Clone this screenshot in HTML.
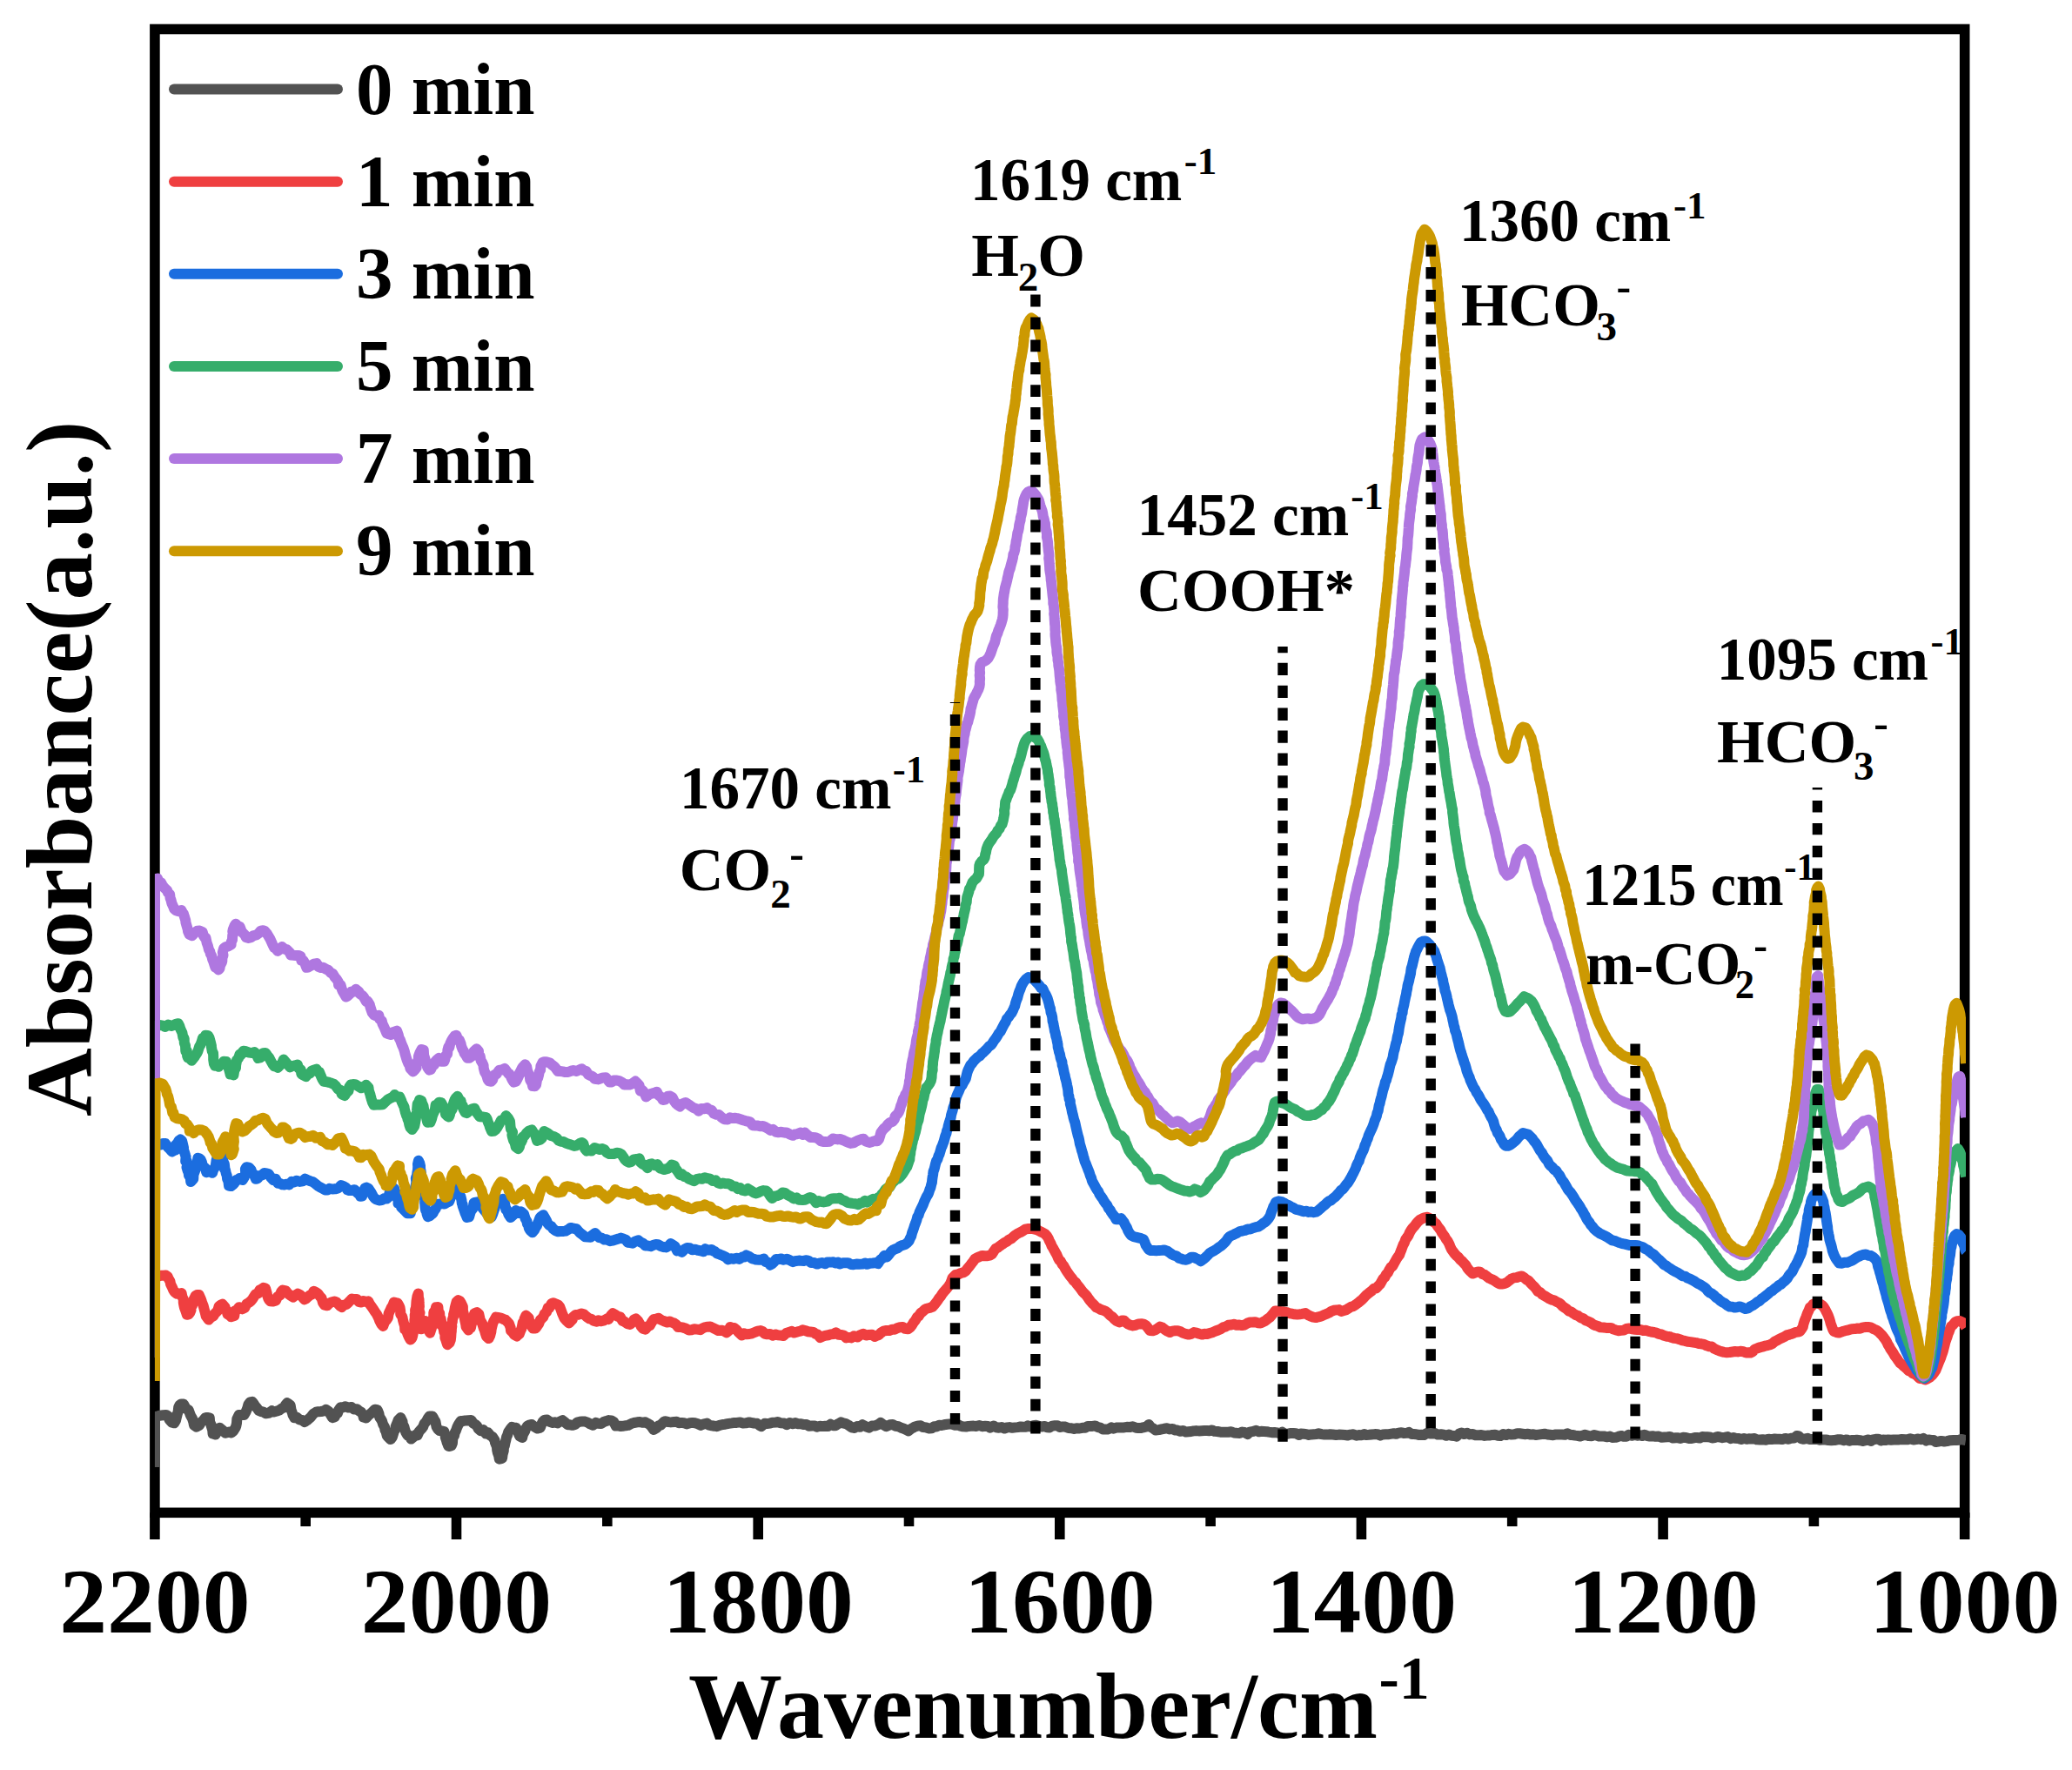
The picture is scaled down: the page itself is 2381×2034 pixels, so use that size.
<!DOCTYPE html>
<html lang="en"><head><meta charset="utf-8"><title>In situ FTIR spectra</title>
<style>html,body{margin:0;padding:0;background:#fff}svg{display:block}text{font-family:"Liberation Serif","Times New Roman",serif;font-weight:bold;fill:#000}.tk{font-size:106px;text-anchor:middle}.lg{font-size:85px}.an{font-size:68px}.s{font-size:43px}</style></head><body>
<svg width="2381" height="2034" viewBox="0 0 2381 2034">
<rect width="2381" height="2034" fill="#fff"/>
<defs><clipPath id="pc"><rect x="177.9" y="33.5" width="2081.1" height="1704.8"/></clipPath></defs>
<rect x="177.9" y="33.5" width="2079.8" height="1704.8" fill="none" stroke="#000" stroke-width="11.6"/>
<path d="M177.9,1738.3 V1769 M351.2,1738.3 V1754 M524.5,1738.3 V1769 M697.8,1738.3 V1754 M871.2,1738.3 V1769 M1044.5,1738.3 V1754 M1217.8,1738.3 V1769 M1391.1,1738.3 V1754 M1564.4,1738.3 V1769 M1737.7,1738.3 V1754 M1911.1,1738.3 V1769 M2084.4,1738.3 V1754 M2257.7,1738.3 V1769" stroke="#000" stroke-width="11.6" fill="none"/>
<g clip-path="url(#pc)" fill="none" stroke-width="12" stroke-linejoin="round" stroke-linecap="butt">
<path d="M177.9,1686 L177.9,1628.4l2.7,-0.8 2.7,-0.9 4.2,-0.5 3.3,-0.3 2.3,1.5 1.4,3.9 2,2.3 1.1,1.1 2.7,0.6 1.7,-3 0.9,-3.9 0.5,-1.8 0.3,-1.5 1,-3 0.5,-5 1.1,-2.2 2,-1.5 2.7,0.2 2.4,4.5 1.5,1.4 1.8,0.8 1.8,5 0.7,1.7 1.8,3.1 1.3,4 0.6,3.5 2.8,2.1 3.3,-1.7 2.4,-4 2,-1.5 2.4,-3.1 2.2,-0.5 2.8,0.5 0.3,4.8 1.9,3.9 -0.4,0.1 1.6,5.1 0.4,4.3 3,0.9 1.6,-2.6 1.7,-2.3 1.6,-2.9 2.1,1.8 3,2.6 1.4,1.6 4.3,-1.1 2.6,0.8 2.2,-1.8 2.5,-4 0.8,-2.2 0.6,-3 0.3,-4.6 1.2,-2.7 1,-2 3.8,-0.2 2.2,-0 2,-3.4 1.7,-4.1 0.7,-2.7 0.6,-2 1.9,-2.3 2.6,-0.6 2,2.9 1.3,2 1.8,2 2.3,3.2 3.1,1.3 2.1,0.5 3.1,1.6 3.1,-0.4 3.6,-2.7 2.1,1.4 3.7,-1.1 2.7,-0.9 2.9,-2.1 3.5,-1.4 0.6,-2.5 2.1,-2.4 1.4,0.9 2.3,1.9 0.8,5 1.5,4 0.5,1.9 1.8,3.4 2.8,-0.5 3,2.6 3.1,0.6 2.9,2.1 2.5,-1.7 2.5,-2.2 1.9,-1.6 2.9,-3.8 3.3,-2.1 2.6,-0.5 3.2,-0.2 3.3,-0.6 2.2,-1.6 3.2,2.2 1.6,2.6 2.7,4.5 2.5,-0.6 1.6,-3.2 1.8,-1.2 1,-3.2 2.4,-3.6 1.9,0.3 3.8,-1.4 3.5,1.4 3.4,-0.6 3.1,2.6 3.3,-0.4 2.1,2.1 2.7,1.5 2.1,3.1 0.5,2.7 3,0.9 2.9,-3.3 2.4,-1.8 2.5,-2.5 2.2,-2.2 3,0.5 1,2.4 0.7,1.8 0.8,4.3 1.4,1.8 1.4,2.5 1,3.4 2,3.5 0.4,3.2 1.1,1.8 1.3,5.1 1,1.2 3,2.9 1.9,-2.3 1.4,-4.6 0.4,-2 1.7,-2.6 0.4,-2.9 0.7,-2.1 1.4,-3.1 0.9,-2.6 2.7,-2.8 2.2,4.3 0.3,3.1 1.6,3 0.9,3.6 1.1,3.1 1.9,3.1 1.4,-0.1 2.7,4.4 2.1,-1.7 3.5,-3.3 1.7,0.8 1.9,-4.4 3.1,-3.3 1.4,-1.9 1.5,-4 2.4,-2.5 1.9,-3.7 1.6,-2.1 3.4,0.1 0.9,1.4 2.4,4.9 0.2,-0.5 1.1,6.1 1.6,2.7 1.9,1.9 2.4,0.3 3,0.7 1.4,4.9 0,1.8 1.2,3.4 0.4,1.7 1.8,4.9 0.5,0.2 3,-0.6 1.2,-2.9 0.3,-3.9 0.4,-3.3 1.4,-1.5 0.6,-3.1 1.5,-3.1 1.1,-3.2 1.7,-3.6 2.5,-3.7 2.4,-0.1 3.1,-0.6 3.3,-0.2 3.2,-0.2 2.4,3.5 2.2,1.3 2.2,2 1.4,3.1 2.9,2.3 2.8,-1.3 2.8,4.5 2.8,-1 2.4,3.1 2.6,1.6 2.6,4 0.4,2.4 1.5,3.7 0.5,0.9 0.3,4.1 0.6,2.9 1.3,3.5 0.7,4.1 2.3,-0.5 1,-0.6 0.5,-4.3 1.2,-4.2 0.1,-3.7 0.9,-1.8 0.7,-3.5 0.8,-3.1 0.7,-3.4 1.1,-2.4 1.1,-3.6 1.9,-2.9 2.2,-2.9 2.1,0.8 2.8,0.2 1.1,2 1.5,4.2 0.5,1.5 1,2 2.9,1.6 0.7,-3.3 2.5,-4.7 0.4,-1.8 2.2,-3.6 1.9,-1.1 3.2,-0.6 3.1,2.6 1,0.6 2.6,1.4 3,-0.9 1.7,-4.6 1.1,-2.2 2.3,-2.2 2.8,-0.1 3.5,2.5 3,0.9 2.7,-0.7 2.8,1.1 2.4,-1.8 3.3,-1.5 2.9,2.3 3.2,2.8 2.5,0.1 2.7,0.5 3.3,-0.8 2.2,-2.4 3.2,-0.8 2.8,-0.4 3.1,0.2 2.9,1 3.2,1.9 2.9,1.2 3.5,-2.8 2.4,0.9 3.5,0.3 3.1,-2.1 3.1,-1.1 2.8,-0.8 2.8,0.3 2.9,1.8 2.3,4.4 2.4,-0.2 3.3,0.6 2.3,-0.2 3.5,-0.6 2.6,-0.3 4.2,-2.2 2.5,-0.7 3.7,-0.7 3.1,-0.2 2.8,0.7 3.6,-0.5 2.2,1.3 2.9,1.6 2.6,3.1 1.6,2.6 3.4,-1.9 2.3,-2.6 2.4,-0.6 3.8,-3.9 1.8,-0.7 3.5,0.9 2.7,0.3 3.6,-0.4 3.1,-0.2 2.6,1.4 3.1,-0.3 2.6,0.3 3.3,1.2 3.6,-1.2 2.8,-0.3 3,0.4 3.5,1 3.2,1.6 2.8,-1.3 4.4,-1 2.2,2.1 3.3,0.6 2.8,0.4 2.8,0.5 3.3,-1.3 3.6,-0.9 2.8,-0.3 4,-0.8 3.7,-0.5 3,-0.5 2.6,-0 4,-0.5 3.3,1 3.1,-0.1 3.9,-0.9 2.1,0.4 3.6,0.7 3.2,0.3 2.7,2 2.3,1.4 4,-3.4 2.5,0.2 3.6,-0.4 2.6,-0.8 4.2,-0.3 2,-0.6 3.1,1.4 4.3,0.2 3,1.6 3.3,-2.1 3.8,1.2 2.8,-1.2 3.5,1.3 2.2,-0.1 4.3,0.9 2.8,-0.1 2.7,1.7 3.7,-0.3 3.1,0 2.4,1.3 3.6,-0.9 2.8,0.3 3,-0.3 3.5,0.1 2.9,-2.2 3,1.6 2.5,0 3.3,-2.2 3,-1.7 2.5,1 3.3,0.8 2.6,1.3 4,2.8 3,0.7 3.4,-1.9 3.2,0.7 2.8,-2.6 4,2.1 3.5,1.3 3.4,-2.1 3.8,-0.1 3.6,-1.5 2.5,-2 3.3,2.4 3.4,1.9 3.9,-1.9 3.4,-0.2 3.2,1.7 3.4,0.4 3,1.6 3.1,1 2.8,1.3 2.3,1.3 3.1,-2.4 2.6,-1.3 2.1,-1.3 3.4,-1 3,-0.1 2.8,1.7 3.7,0.4 3.3,1 3,-0.2 2.8,-1.9 2.5,0.2 3.2,-1.8 2.7,0.3 2.9,-0.7 3.5,-0.5 3.1,-0.4 3,0.4 3.1,1 3.7,-0.5 2.4,1.3 3,0.7 3.5,0.2 3,-0.6 2.6,-0.2 3,-0.1 2.9,0.4 3.9,-1 3.1,1.2 3.4,-0.4 3.2,0.2 2.5,1.6 4,-2.1 2.8,1.7 3.5,0.5 3,-0.6 3.2,1.4 2.8,-1 3,-0.4 3.3,0.7 3.5,-0.4 2.8,-0.3 3.2,-0.6 3,0.3 3.1,0 2.3,-1.5 2.3,1.1 3.7,-1.1 3.7,-0.5 3.4,1.2 2.7,0.6 3.6,-0.7 2.5,1.4 3,0.1 3,-1.8 3.1,-0.4 3,0.1 2.6,1.7 3.3,-0.6 2.9,0.2 3.7,1.4 3.5,0.2 3.1,0.8 2.8,-0.8 3.4,0.3 3.2,-0.7 3.2,-0.1 3.1,-1.8 2.8,0.1 2.5,-0.1 3.2,-0.4 3.3,1.6 2.5,0.5 3,1.9 3.4,0 2.9,-0.1 3.5,-2 2.5,1.3 3.1,-1.1 3.7,-0.1 2.2,0 3,-0.1 3.4,-0.6 3.8,0.1 2.8,-0.7 3.9,1.6 2.6,0.3 3,-0 2.6,-0.8 3.9,-0.9 2.6,-2.4 2.2,3 2.9,1.5 2.6,2 3.8,-0.4 3.1,-0.7 3,-0.6 3.4,-0.5 2.8,1.1 3.3,-0.5 2.9,1.5 2.8,0.2 3.4,1.2 2.9,-0.9 3.5,1.7 2.7,-0.3 3.2,-0.3 2.8,-0.6 3.1,-0.3 3,0.3 3.1,-0.2 3.1,-0.2 3.4,0 2.4,0.2 3.2,-0.8 2.9,1.4 3.3,0.2 3.5,0.7 2.9,0.1 2.9,-0.1 3.2,0.1 3.4,-0.5 3.2,1.2 3.1,0.3 3.2,0.1 3,-1.3 2.6,0.4 3.7,2 2.4,-2.4 4,-0.7 3.1,-1.1 3.4,1.5 2.6,-0.5 3.2,0.2 3.5,0.2 2.1,0.4 3.6,0.6 2.8,-0.2 3.5,0.4 3.5,1.2 2.1,-1.9 3.2,2.1 3,-0.1 2.8,-0.7 3.8,0.1 3,0.2 3.6,1.7 2,-1.4 3.1,0.1 3.3,0.4 2.8,0.9 2.7,-0.6 2.9,-0.2 3,-0.2 2.6,-0.8 3.2,0.9 3.5,0.5 3.3,0 3,-0.4 3.1,0.3 4,0.5 3.2,-0.4 3.6,0.1 3.4,0.3 3.2,0.5 3.1,-0.9 3.2,-0.3 3.7,1.4 2.8,-0.6 3.3,0.1 2.9,-1.2 2.3,1 3.1,-0.2 2.8,-0.3 3.9,-0.4 3.5,0.1 2.5,1.4 2.9,-1.1 3.3,-0.2 3.9,-0.1 3.1,-0.6 2.6,-0.4 2.6,0.6 2.8,-1.1 3.4,-0.5 2.6,0.7 3.7,-0.1 2.3,-0.9 3.2,2.1 2.3,0 2.9,0.2 2.8,0.7 2.9,-0.2 3,0.4 3.3,-2.1 3.4,0.4 3,0.1 3.2,-0.5 3.1,1.6 3.6,-0.4 3.1,0.5 3.1,1.1 3,-1.3 2.8,1.2 3,0.2 3.1,0.7 2.9,-3 2.6,-1.1 3.1,1.5 3.6,-1.2 2.7,1.6 3.2,-0.4 3.5,1.2 3.7,0 3,-0.2 3.8,0.9 2.8,-0.3 3.4,-0.1 2.8,-0.6 3,-0.1 3.3,1 2.7,0.3 3.4,-2.1 3.4,1.1 2.7,-1.3 2.9,0.7 3.8,-0.3 3.3,-1 2.6,0 3.3,0.5 3.7,0.5 2.7,-0.5 2.8,0.9 3.3,-0.4 2.9,0.8 3.1,-0.4 3.7,-0.5 3.3,-0.4 3.4,0.8 2.8,0.3 3.6,0.4 3.4,-0.8 3.5,0 3.3,-0 3.4,0.3 3,-1.4 3.3,1.6 2.3,0.1 3.3,0.6 2.3,0.3 3.4,0.6 2.8,-0.9 2.6,-0.8 4.1,1.2 3.7,0.2 2.8,-1.2 3.2,0.8 2.9,0.8 3.1,-0.2 2.7,0.2 2.6,0.7 3.6,-0.7 2.7,1.3 4.1,-0.1 2.9,-1 3,-0.9 2.9,0.8 3.5,-0 2.3,-2 3.8,1.1 2.7,-1.3 3.3,1.2 3.2,-0.5 2.6,0.8 2.7,-1.3 3.2,1.4 3,0.5 3.1,-0.4 3.3,0.6 3.8,-0.2 3.4,1.2 3.1,-0.3 3.6,-0.2 2.8,-0.3 3.4,1.6 3.2,-0.4 2.8,0.1 2.7,0.6 2.9,-1.1 3.2,0.2 3.8,1.1 2.8,-0.1 3.7,-0.9 2.5,-0.1 3.2,0.5 2.9,-1.4 3,0.1 3,0.1 2.5,0.1 2.9,1.1 3.2,-0.4 2.8,-1.2 2.9,0.6 2.9,0.7 3.1,-0.5 3,-0.6 3.4,2 2.9,-1.1 2.4,0.8 3.9,0.3 3,0.8 3.1,-0.9 3,0.8 2.5,-0.5 3.1,0.2 3.5,-0.5 2.6,1.3 3.8,0.2 3,-0.3 4.1,0.5 2.8,-1 3.3,0.4 3.5,-0.6 2.6,0.3 3.2,-0.1 2.9,0.4 3.5,-1.2 3.9,0.9 2.7,-1.1 3.7,-0.3 2.9,-2.4 2.5,0.5 2.5,2.7 2.3,0.6 5.2,-1 2.2,1.2 3.2,-0 2.9,-0.3 2.8,0.2 2.9,0.8 3.1,-0.1 3.8,-0.1 3,0.5 3.4,0.2 3.3,-0.1 3.6,-0.8 4,0 3.4,0.9 3.2,-0.8 3.1,1.3 2.7,-0.8 3.4,0.2 2.4,-0.4 3.7,0.5 3.3,0.8 3.1,-0.8 3.4,-0.8 2.9,1.5 2.4,-1.6 3,-0.5 3.1,-0.1 2.9,1.8 2.4,-1 2.8,0.5 3.2,-0.6 3.2,0.4 3,-0.3 3.1,-0 3.2,-0.1 3.1,-0.4 4.1,0.3 2.6,0 3.3,-1.1 3.2,1.3 3.3,-0.5 2.5,-0.5 3.2,0.7 2.7,-1.3 3.1,2.7 2.7,-1.2 3.1,0.5 2.8,0 2.6,2.1 2.7,-0.4 3.3,-0.7 3.6,0.6 3.1,-0.4 4,-0.9 3.6,-0.3 3.3,0.2 2.9,-0.3 3.3,-0.9 3.3,1 1.2,0.2" stroke="#525252"/>
<path d="M177.9,1560 L177.6,1465.3l3.8,1.5 3.5,-1.1 2.7,-0 3,-0.2 2.2,1.6 0.5,1.7 2.2,3.8 0.6,3.2 1.6,3.1 1.5,3.6 1.2,2 2.9,2.3 3.2,-0.3 2.1,-0.5 0.9,4.4 1.3,2.7 0,3.7 0.7,3.8 0.6,2.7 0.2,-0 1.8,5.4 0.7,2.1 2,-0.4 1.6,-2.1 1.1,-2.7 -0.3,-3.8 1.9,-1.7 0.2,-2.4 0.8,-3.4 0.9,-1.9 1.7,-3.3 1.7,-1.1 2.3,0.1 1.1,2.4 1.1,2.5 1.3,3.8 1.4,3.6 0.1,0.4 1.3,4.9 0.7,2.5 1,4.3 3.1,4.1 2.9,-3 2.8,-1.5 1.3,-2.5 1.5,-1.4 1.9,-2.1 1.4,-4.8 1.8,-1.6 2.2,-1 3,3.5 0.9,3.1 1.1,0.8 0.8,4.1 2.7,1.4 1.3,1.6 3.9,-1.2 0.8,-5.8 1.9,-0.5 2.7,-3.5 1.4,0.2 2.5,1.9 2.5,-1.3 2.2,-4.4 2.9,-1.9 2.5,-2 1.8,-2.4 3.2,-5.1 2.8,-0.5 1.9,-4.4 1.6,-0.4 2.9,-2.2 2.2,0.9 1.6,5.5 0.2,1.7 1.5,4.6 1,1.6 1.2,1.2 3.1,0.4 3.3,-1.1 2.1,-4.7 2.5,-1.2 1.6,-4.3 1.6,-1.7 3.7,0.8 2.2,2.9 3.4,2.5 2.7,1.9 2.6,-2.2 2.8,-1.9 2.5,1.2 2.5,2.4 2.5,3.1 2.1,-1 2.1,-2.1 1.9,-1.5 2.9,-1.4 1.8,-3.5 2.5,1.1 2.2,1.5 2.5,3.4 1.8,1.7 1.5,5.5 1.9,2.6 3.2,0.7 2,-2.6 2.6,-1.1 3.8,-1.1 2.3,1 3.9,4.2 2.1,1.4 2.1,-2.4 2.8,-0.5 2.1,-1.8 3.4,-3.7 1.1,-1.2 2.5,0.6 3.5,-0.1 2.3,3.2 2.5,0.4 2.3,-1.6 3.6,1.1 2.2,-0.8 1.7,3.4 1.8,2.4 2.8,4.1 1.8,2.8 1.5,2 1.4,2.8 1,2.1 0.8,2.3 2.2,4.4 2,2.4 2.4,-6.2 1.3,-0.6 2,-3 0.7,-4.6 0.5,-1.2 1.7,-3.6 0.8,-1.9 1.7,-2.5 1.4,-3.9 2.4,0.6 1.7,0.3 1.7,2.9 1,2.2 0.7,4.2 0,3.5 1.8,2.5 0.6,1.6 0.3,2.1 1,3.9 1.1,3.1 0.2,4.2 2.4,0.8 0.3,3.2 0.7,2 1.2,2.7 1.8,3.2 1.9,-2 0.7,-2.5 0.7,-3.7 0.3,-1.4 0.6,-4.9 -0.1,-2.5 0.7,-1 -0,-4.8 0.4,-2 -0.1,-3.6 0.5,-1.6 -0.1,-4.2 0.9,-2.8 0.2,-2.4 0.3,-4.6 0.4,-2.4 0.6,-3.5 1.2,-3.1 0.2,4.5 0.6,2.3 0.1,3.5 0.3,4.7 -0.3,1.6 -0,3.4 0.9,2 -0.7,3.2 0.9,3.5 0.1,0.1 -0.3,6.6 0.1,2.8 1.5,2.5 1.3,-0.4 0.3,-2.8 1.5,-3.5 1.5,-2.4 1.5,2.4 0.7,4 0.9,1.6 0.5,2.2 1.8,3.4 0.7,-2.3 1,-2.8 1.1,-4.4 0.2,-1.7 -0.1,-3 0.9,-2.6 0.4,-3.1 0,-3.9 1.8,-1.5 0.9,-4.2 2.4,-0.1 0.4,5.5 1.4,1.5 0.1,5.9 1.3,0.4 0.6,4.4 -0.3,3 1.9,-0.1 0.6,3.1 0.8,4.7 1.1,1.7 0.1,5.2 0.7,1.6 1,3.2 1,3 2.4,-2 1.3,-3.3 0.4,-3.1 0.3,-4.7 0.3,-2.1 0.1,-3.1 0.4,-2.7 -0.4,-2.6 0.9,-2.7 0.1,-2.3 1.2,-3.9 -0,-2.1 1,-3.5 0.7,-4.3 0.5,-1.9 1.3,-5 1.9,-1.7 2.1,1 1.5,2.6 1.2,2.5 0.6,1.5 -0,4.2 1.1,4.5 -0.1,1.6 0.7,1.7 0.7,3.9 0.9,4.1 0.4,3 1.4,1.9 1.2,1.8 1.3,-1.9 1.4,-0.5 0.8,-4 1,-4.2 1,-4 0.9,-1.7 0.5,-2.9 3,-1.2 2.2,2.1 0.9,3.9 0.7,3.8 0.7,0.3 1.6,2.8 0.6,2.1 0.9,3.1 1,2.1 1.3,4.6 1,3 1.4,1.3 1.2,0.9 1.5,-3 1.3,-4.9 0.1,-1.4 0.3,-1.9 0.9,-3.8 0.5,-2.1 1.2,-2.9 2.5,-4.5 2.2,0.4 3.7,0.6 3.4,1.6 1.8,0.6 2.1,2.2 1.9,2.1 1.7,4.7 0.3,3.3 2.6,2.4 1.3,2.3 3.1,1.7 0.6,-0.8 2.1,-1.6 1.5,-4 1,-2 0.5,-1.8 1,-5.3 1.6,-2.1 0.4,-2.7 1.7,-3.6 3.3,3.1 0.2,3 1.8,2.3 0.1,2.3 2.5,4.2 2.9,0.1 1.5,-1.8 2.4,-3.4 1.8,-4.7 1.7,-1.5 1.8,-1.9 1.2,-3.4 2.5,-2.3 1.5,-4.6 1.6,0 2.6,-5.1 2.2,-0.7 2.8,1.2 2.7,1.3 1.7,1.8 1.4,3.8 1.4,4 2.1,4.6 0.4,1.1 2.4,2.6 2.9,2.8 2.4,-2.4 1.6,-1.7 0.7,-2.8 2.9,-2.6 3.5,-0.2 3.4,-1.2 2.7,0.7 2.9,2.8 3.3,2.3 2,0.3 2.8,2.1 3.8,1.1 1.6,-1.6 3.3,1.1 3.4,-0.9 3.5,-2.1 1.7,0.7 3,-4.7 1.9,-2.1 2.7,1.5 3.3,2.2 2.6,0.5 2.6,4.7 2.3,0.7 3.2,2.3 3.1,0.8 3,-2.6 1.6,-3 2.1,-1 2.7,2.9 2.5,4.3 0.7,1.6 2.4,2.9 2.7,0.6 2.5,-3.3 2.6,-1.1 2.2,-3.9 2.3,-3.3 1.9,-0.1 3.6,-1.2 2.8,2.1 3,1.2 4.1,1.5 2.4,-1.1 2.9,1.2 2.6,0.9 2.5,1.7 2,2.9 2.9,-0.1 3.2,0.7 2.6,0.8 3.8,2.1 3,-0.4 3.2,-1 3.3,0.4 3.6,0.6 2.4,-1.6 3.5,-1.5 2.5,-0.4 3.1,-0.1 2.9,1.3 3.6,1.8 2.7,1.3 3.6,-0.3 2.8,0.6 3.2,2 2.9,-2.6 1.2,-3.8 2.2,1 2.5,0.2 2.7,2.3 2.3,2.7 3.7,3.4 2.2,-2.3 3.1,1.1 3.3,-0.3 3.1,-0.7 3.7,-1.5 2.6,-1.2 3.4,-0.5 2.5,1 2,2.5 3.1,0.7 3.3,-0.4 3,1.8 3,-1.3 3,0.8 3.4,0.4 3,0.4 3.2,-2.9 3.2,-1 3.2,-1.3 2.8,1.7 3.7,-1.1 3.5,-0.7 2.6,-1.4 2.7,0.7 3.6,1.2 2.4,0.3 3.7,0.5 2.3,1.9 2.3,0.5 3.1,3.7 3.3,-1.5 2.2,-0.7 3.8,-0.6 2.7,-0.9 3.4,-0.4 2.9,-1.7 3,2.5 2.4,0.1 3.6,0.7 2.6,2.8 3.9,-0.5 2.2,0.5 2.8,-2.2 4.2,1.3 2.8,-2.2 3.7,-1.6 3.3,1.8 2.3,-0.4 4.6,-0.3 2.9,2.1 2.5,-1.1 2.3,-0.8 2.5,-2.5 3,-1.8 3.5,-0.8 3.1,0.2 3.1,-1.4 2.9,0.1 2.9,-1.6 3.2,-1 3.2,-0.2 2.6,1.8 3.6,0.5 2.3,-1.8 2.2,-2.6 1.8,-3.2 2,-2.3 2.1,-3.8 1.7,-1.1 2.6,-3.8 2.3,-1.6 2.4,-2.4 2,-0.9 3.2,-0.8 3.3,-1.1 2,-2.2 2,-2.5 2,-2.6 1.4,-2.3 2.1,-2.4 1.7,-2.8 2,-2.6 1.8,-2 2.3,-2.7 1.7,-2.2 1.7,-2.6 1.4,-3.6 0.9,-2.6 1.4,-1.6 2.2,-2.2 2.9,-0.5 3.2,-1.5 3.5,-0.9 2.2,-1.5 2,-2.8 2.2,-2.5 1.9,-2.6 2.4,-3.1 1.9,-2.8 2.7,-1.5 2.9,-1.3 2.9,-1.1 2.9,0.4 3.2,-0.1 2.6,-0.5 2.5,-1.6 2.1,-3.2 2.1,-3 2.6,-1.3 2.1,-1.7 2.7,-1.8 2.7,-2 2.9,-1.5 2.6,-2.2 2.7,-1.2 2.3,-2.2 2.5,-2 2.6,-1.6 2.9,-1.3 2.9,-1.8 2.6,-1.6 2.8,-0.6 2.8,-0 3.2,-0 3.2,0.7 3,1.1 2.9,1.6 2.3,1.1 2.7,1.6 2,2.3 1.5,2.4 1.4,3.3 1.5,2.7 1.2,3.2 1.3,2 1.6,2.8 1.3,2.4 1.5,2.5 1.4,3.6 1.5,2.8 1.6,1.3 1.8,3.4 1.6,1.7 1.9,3.5 1.7,2.8 1.7,2.5 2.2,3.1 1.7,1.9 2.2,3.2 2.1,1.7 1.9,2.7 2.2,2.7 1.7,2.2 1.9,2.7 1.9,2.1 2.1,1.9 1.6,2.1 1.9,2.8 2.1,2.7 1.9,2.3 2.4,2.2 2.4,2.7 2.4,0.9 2.6,1.6 3,0.8 3,1.3 2.6,2.2 2.4,2.6 2.5,1.6 2.5,2.7 2.1,1.7 3.4,1.7 3,-2 2.4,-0.1 1.7,2 2.8,2.1 2.8,1.2 2.8,0.7 3.2,-0.6 3.1,-1.4 3.6,-0.2 2.5,0.4 2.9,1.8 2,2.6 2.2,3 3.3,0.3 2.9,-1 2.6,-1.6 2.9,-2.1 2.8,1.1 2.7,2.1 3.2,2 2.6,1.2 2.9,-1.4 3.2,-0.4 3,0.1 3.4,1 2.7,1.6 3.1,1 3.2,0.7 3.1,-0.7 3.1,-1.8 3.1,0.6 3,1 3.5,0.9 2.2,-0.9 3.3,0.3 3.1,-1 3.7,-1.1 3.1,-1.4 2.8,-1 3,-1.3 2.9,-1.9 3,-0.9 2.7,-1.6 3.3,-0.3 3.2,-0.8 3.1,1.1 3.2,-0.3 2.8,0.6 3.3,-0.6 3.2,-2 2.9,-0.9 2.5,-0.1 3.4,-0.3 2.9,1 3.3,0.2 2.8,-1.2 2.7,-1.4 2.8,-2.3 2.6,-1.7 2.3,-2.8 1.9,-2.3 1.7,-2.1 3.3,-0.1 3.3,0.4 3.1,0.3 3.2,0.8 3,1.1 3.1,0.6 3.2,0.6 3.2,0.3 2.9,-0.3 2.9,-0.4 3.6,-0.9 3,2.2 2.5,1.1 3.4,1.3 3.1,0.5 3.1,-0.8 2.8,-0.6 2.9,-1.4 3.2,-1.3 3.1,-1.4 2.7,-1.7 2.8,-1.1 2.9,-0.4 3,-0.3 2.5,1.8 3.2,-0.9 2.6,-0.8 2.5,-1.6 3,-1.8 2.7,-0.7 3.1,-2.1 2.5,-1.8 2.1,-1.8 2.8,-2.3 1.7,-1.9 2.5,-2.7 2,-1.6 2.3,-1.8 2.4,-1.9 2.4,-2.4 2.3,-0.2 2.6,-2.8 2.1,-2.1 1.8,-3.2 1.7,-3.1 1.9,-1.7 1.5,-3 2.2,-2.3 1.4,-3.1 1.7,-2.8 2.1,-1.5 1.5,-2.7 1.8,-3.2 1.8,-3.2 1.2,-1.7 1.6,-2.1 1.2,-3.3 1,-2.4 1.1,-3.1 1.2,-3.1 1.2,-1.9 1.5,-4.2 1.6,-2.1 1.5,-2.2 1.5,-3.5 1.5,-2.5 1.6,-2.2 2.6,-2.9 1.6,-2.2 2.4,-2.8 2.1,-1.9 2.5,-1.4 3.2,-1.2 2.9,-0.4 2.8,1.4 2.5,1.1 2.1,3.3 2.3,1.3 2,3.3 1.7,2.1 1.8,2.4 1.4,2.7 1.8,2.5 1.6,2.3 1.6,3 1.6,1.9 1.8,3.4 1.4,3.5 1.4,3 1.8,2.4 1.6,2.2 2.3,2.5 1.9,1.6 2.4,2.9 2.1,1.8 2.1,2.3 2,2 1.8,3.3 1.8,2.3 1.9,1.9 2.5,2.3 3.3,-1.2 2.9,-0.9 2.4,0.3 2.8,2.4 2.5,0.9 2.6,1.9 2.6,2 2.9,1.3 2.9,1.5 3.2,2.3 2.9,1.5 2.6,0 2.9,-0.4 2.9,-1.3 2.7,-2.3 2.1,-1.7 3.1,-1.4 3.2,-0.3 2.6,-1 3.3,-0.6 2.7,1.6 2.5,2.3 2.8,1.5 2.1,2.5 2.2,2.4 2.2,1.9 2.3,2.8 1.9,2.7 2.7,1 2.2,2.4 2.8,1.6 2.4,1.5 2.7,1.6 2.8,1.3 2.8,0.7 2.8,1.6 2.6,1.2 2.1,1.4 2.2,2.5 2.5,1.7 2.4,1.6 2.7,2.5 2.5,0.7 2.6,2 2.6,1.6 2.9,1.1 2.7,2 3,1 2.6,2.1 3.2,1.2 3.1,1.6 2.6,2.1 2.9,1.1 2.6,0.7 2.7,1.3 3.7,0.2 2.8,0.4 2.4,-0 3.1,-0 2.7,1.4 3.2,1.2 2.9,0.7 3.1,-0.3 3.1,-0.3 2.9,-1.6 3.4,-0.6 3,0.9 3.3,0.4 3.1,0.3 3.2,-0.1 3.3,1 2.8,-0.1 3.4,1.1 2.7,0.6 3.6,0.5 2.6,0.6 2.6,1.3 3.3,0.6 2.7,1.2 3.5,1 2.7,0.2 2.6,1.1 3.2,0.9 3.2,0.3 3,1 3.1,1.2 3,0.5 3.1,0.9 3.1,0.3 3.3,0.5 3.3,0.5 3.1,0.9 2.8,0.3 3.1,0.6 2.9,1.4 3,0.9 3.1,0.3 2.5,2.1 2.8,1.4 3.2,1.3 2.6,0.9 2.9,0.7 3,0.3 3.5,-0.2 3.3,-0.5 3,-0.5 3.1,0.4 2.8,-0.6 3.6,0.5 3,1.3 2.7,-0.3 2.4,0.3 2.5,-1.2 2.5,-2.9 3.2,-1.3 2.7,-0.9 2.6,-0.6 3.1,-1 3.1,-0.6 3.1,-0.9 2.7,-1.4 2.8,-2.5 2.3,-0.9 2.4,-1.5 3,-1.4 3,-1.4 2.8,-1.7 3,-0.8 2.9,-0.9 3.5,-1.5 3,-0.5 2.6,-0.8 2.2,-3 1.3,-2.2 0.6,-2.9 1.1,-3.6 1.1,-2.8 0.9,-2.2 1.5,-4.3 1.5,-2.9 1.2,-3.3 1.6,-1 2,-2.7 2.7,-1.3 2.9,-0.1 2.8,1 2.5,1.6 1.8,2.2 1.4,2.4 1.6,3.1 1.7,3.5 1.2,3.2 1,3.2 0.8,3.2 1,2.7 1.3,3.6 1.3,2.6 2.9,1.1 3.1,0.6 2.6,-0.9 2.7,-1 3.4,-0.9 3.1,-0.7 2.9,-0.9 3.5,-0.1 3.2,-0.6 2.8,0.2 3.2,-1.3 3.6,-0.4 2.5,0 3,0.4 3.3,1.9 3,1.2 2.5,1.7 1.8,1.9 2.3,2.2 1.8,2.5 1.8,2.3 1.8,2.8 1.4,3.2 1.5,2.3 1.2,2.5 1.9,2.8 1.7,2.5 1.7,3 2,2.5 1.8,2.8 2.1,2.8 2.2,1.6 2.5,2.5 2.6,2.1 2.3,2.5 2.8,1 2.3,2.3 2.9,1.2 2.4,2 2.7,2.5 3.1,0.3 2.9,1.2 2.5,-0.9 3,-1.7 2.4,-2.2 2.7,-3.4 1.7,-2.6 1.2,-2.9 1,-2.5 1.3,-3.4 1.1,-2.7 1.2,-2.8 0.9,-2.9 1.2,-3.1 0.7,-2.4 0.9,-3.5 0.8,-3.2 0.7,-2.9 1.2,-3.6 0.9,-2.3 1.2,-4 1.2,-2.6 0.8,-2.3 1.3,-3.2 2.2,-1.9 2.6,-3.2 2.2,-1 3,-0.4 3.1,1.7 2.1,2.8 1.8,2.8" stroke="#ef3f40"/>
<path d="M177.9,1560 L177.6,1316.4l3.1,-1.9 4.1,0.9 2.5,-1.5 2.9,0.2 2.8,4.4 2.6,2.5 1.9,2.4 3.1,-1.7 1,-0.2 0.5,-6 1.5,-1.2 2,-3.5 1.8,-1.4 1.7,1.5 0.8,3.2 1.1,4.7 -0.3,1.7 1.4,4 1.1,3.6 0.4,1.2 -0.4,4.9 1.6,0.4 0.5,4.1 -0.8,2.8 1.2,3.9 0.9,1.7 0.4,3.5 1.8,2.7 0.4,4.8 3,-3.2 0.2,-4.7 0.3,-1.1 1.6,-4.2 0.2,-2.3 0.5,-2.3 1.4,-3.8 0.5,-2.1 0.4,-3.6 1.8,0.5 1.7,1.5 1.1,2.5 0.6,3.3 1.9,2.5 1.7,1.5 1.1,4.6 3.7,-1 3.2,1.6 1,-3.3 1.8,-3 0.8,-0.9 0.5,-4 0.4,-3.1 0.6,-2.1 0.6,-2.1 2,-4.6 0.6,-1.1 1.8,0.8 0.7,4.1 1.2,2.5 0.3,3.5 1.4,3 0.5,4.7 -0.3,1.2 0.9,0.9 0.9,4.3 0.9,2.2 0.4,3.9 1.3,2.7 0.6,5.2 2.4,0.5 2.5,-1.9 1.8,-2 1.8,-3.3 0.7,0.5 3,-2.3 3.5,2 2,-3.3 0.2,-1.4 1.3,-3.1 -0.3,-5 1.3,-2.1 3,0.4 2.4,2.8 1.3,4.5 1.8,0.6 2.2,5.3 2.1,-0.4 2.3,-3.3 2.8,-0.7 2.4,-2.3 2.2,0.1 3,0.8 2.5,3.9 2.9,3.2 2.7,-1.4 2.6,5 2.1,0.1 3,1.5 2,0.1 2.3,-0.7 3.6,0.8 2.8,-3.8 3.1,0.8 2.5,-1.8 3.7,1.2 3.4,-0.5 2.6,-2.7 3.1,1.5 3.3,1.2 2.8,0.9 2.9,2.2 2.4,2.1 3,1.8 1.7,0.9 4,2.1 2.5,0.1 2.4,-1.7 3.2,0.7 3.4,-0.2 3.4,-0.8 3.3,-3.5 3.2,1.3 2.6,1.6 1.5,2.5 1.9,0.6 3.4,-0.1 3,-0.7 2.9,3.4 2.3,1.5 1.4,2.7 2,-0.3 1.2,-3.1 0.6,-2.3 1.5,-3.8 1.8,-0.7 2.2,1 2.2,3.5 1.2,1.8 1.9,3.7 1.8,2.4 1.4,1.1 3.7,1.4 3.4,-0.4 2.3,-1.8 3.1,0.1 2.7,-2.4 0.3,-3.8 1.1,-0.5 1.3,-2.3 1.5,-3.7 2,1.3 0.3,3.9 1.6,0.9 1.1,4.9 1.4,4.7 -0.2,2.4 3.2,1.4 0.4,3.2 2.4,2.2 1.3,1.3 3.1,3.3 3.8,0.1 0.7,-4.9 1.5,-1.1 0.2,-3.6 0.8,-4 0.3,-1.7 0.5,-2.6 0.3,-4.6 0.8,-5 0.1,-1.7 1,-4 0.4,-2.7 -0.5,-4.3 0.3,-1.2 0.9,-2.2 0.5,-3.8 0.5,-2.6 0.2,-3.6 -0.2,-2.9 0.9,-4.1 1.4,3.1 0.7,3 0.1,3.7 0.5,2.3 0.6,5.2 0.1,0.5 0.9,5.1 -0.2,1 0.6,6.6 0.5,1.7 0.5,0.6 -0.1,3.9 0.9,4.8 0.9,3.3 -0.1,4 0.4,5.6 0.5,2.6 0.9,1.1 0.6,3.4 1,3 2.2,-0.8 2.6,-2.4 1.1,-0.6 1.4,-3.1 1.8,-2.4 2.2,-5.1 2.8,-0.1 1.8,-0.8 3.2,0.6 2.9,-1.7 2.7,-1.1 1.2,-3.6 1.2,-2.4 1.1,-3 1.3,-3.8 1,-1.6 2.2,-2.1 1.8,2.8 1.9,3 0.5,3.7 1,1.6 0.9,3.9 0.4,3.5 0.9,1.6 -0.1,1.5 1.8,5 1.2,3.5 0.6,1.2 1.4,3.4 2.5,-0.6 1.5,-5.3 1.3,-2.5 1.7,-2 0.3,-2.1 0.6,-3.9 1,-0.6 3.1,-0.6 1.9,0.6 2.4,3.5 1.1,2.3 2.3,2.9 2.1,2.4 1.2,1.9 1.7,1.2 1.7,3.2 1.7,-0.5 1.6,-3.9 1.6,-5 0.5,-0.8 1.7,-5.9 1.5,-1.5 1.8,-0.2 1.5,-2.7 2.8,-1 1.9,1.6 0.3,3.1 0.7,3.5 0.8,4.1 1.3,0.3 1.7,5.3 2.3,3.4 3.6,-3.3 2.6,-4.8 3.4,2.9 2.5,-1.6 3.2,2.7 1.7,5.5 1.8,3 0.4,3 1.4,1.5 0.4,3.1 1.4,2.6 2.8,2.5 2.1,-2.5 1.4,-2.8 1.5,-2.2 1.2,-3.5 0.5,-0.7 1.6,-4.5 1.3,-1.9 2.8,-1.9 1.8,3.1 2,3.6 1,2.6 2,2.5 2.6,1.4 1.8,2.6 3,2.4 2.7,0.9 2.4,-0.3 3,-0 3.3,-0.4 3.4,-1.8 2.5,-1.9 3.3,0.9 3.5,0.5 2.7,3.2 1.7,1.7 3.4,2.5 2,1.6 3.2,0.3 3.1,0.2 2.5,-2.9 2.7,-1.8 2.6,2.9 2.1,2.2 2.7,0.5 3.2,1.9 2.6,-0.3 3.9,1.9 2.7,-0.5 3,-0.9 4,-1.2 2.8,-1 3.2,1.1 2.7,1.1 1.9,2.9 3.1,0.4 2.7,0.6 2.8,-2.3 3.7,-1.1 2.4,2 3.1,1.6 2.5,2.6 3.1,0.1 3,0.6 3.3,-1.5 2.7,-0.8 2.5,0.3 3.6,2.1 2.5,0.7 3.1,0.4 2.7,-1.4 2.6,-2.9 3.2,2 1.8,1.3 2.4,5 2,-0.2 3.6,1.7 3,-3.4 2.8,-1.5 3.1,0.3 2.9,2 3.3,-0.6 3.2,1.1 2.8,0.4 3.5,1 2.1,-3 3.2,1.4 4.3,-0.6 1.9,1.7 1.7,0.4 2.4,2.2 3.6,1.4 3.2,1.4 3.2,1.4 2.9,2.9 3,-1.1 3.1,0.4 3.6,-1 3.1,1.2 3.3,-2.3 2.3,-0.1 2.3,-2.1 3.6,1.6 3.3,2.4 2.3,0.5 2,0.7 3.6,0.2 2.9,-0.2 2.5,-1.1 2,3.5 2.5,0.4 2.8,3.3 2.6,-1.6 2.1,-2.1 2,-3 2.7,0.2 3.6,-0.8 2.1,1.4 4.2,-1.1 2.9,1.3 3.8,2.1 2.4,-0.9 4.6,-0.6 2.2,0.2 3.5,0.1 2.3,-0.6 2.9,0.4 3.3,2.4 2.7,-0.2 4.2,1.7 2.2,-0.9 3.1,-0.6 3.9,1.2 2.4,-1.9 3.1,0.2 3.8,-0.4 2.4,1.3 3.1,-0.9 1.8,1.8 3.8,-1.1 2.8,0 3,-0.1 3.5,1.8 2.9,0.2 3.3,-0.7 2.9,0.3 4,-0.2 3.2,-1.1 2.1,1.3 3.4,-1.1 3.2,-0.2 2.8,-0.4 3.1,1.1 2.9,-4.8 2,-1.1 2.5,-3.4 3,1.5 2.1,-2.7 2.8,-3.6 2.9,-2.2 1.9,-0.6 2.9,-1.2 2.1,-1.9 3.2,-1.3 3.1,-0.9 2.6,-2.2 1.7,-1.7 1.2,-3 1.3,-2.4 1,-4 0.9,-2.4 1,-2.8 1,-3.2 1.2,-3 1.1,-3.1 0.9,-3.6 1.3,-2 1.2,-3.8 1.2,-2.6 1.6,-3.2 1.3,-2.7 1.2,-3.2 1.2,-2.6 1.4,-3.2 1.4,-2.1 1.2,-2.4 1.2,-3.8 1,-2.2 0.8,-3.6 0.7,-2.2 0.3,-3.2 0.4,-3.1 0.5,-2.7 0.4,-3.7 1.2,-3.2 0.6,-2.5 0.8,-3.4 0.9,-3 1.4,-2.1 1,-3.5 1.2,-2.5 1.1,-3.8 0.9,-3.2 1.1,-2.3 0.8,-2.1 1.2,-3.3 0.8,-3 0.8,-3 1.2,-3.1 0.5,-2.6 1.1,-2.5 0.6,-3.3 1,-3.5 0.9,-2.8 0.9,-2.7 0.5,-3.2 0.9,-3.2 0.7,-2.3 0.9,-3.8 0.9,-2.3 1.3,-3.9 0.6,-2.9 0.7,-2.8 1.2,-2.9 1.3,-2.8 1.1,-2.6 1.3,-3.2 1.9,-2.1 1.4,-3.1 1.4,-2.1 1.3,-2.5 0.8,-3.5 0.8,-3.3 1,-2.7 1.1,-2.3 1.6,-3.5 1.9,-1.9 1.8,-2.7 2.4,-2.3 2.2,-2.1 2.3,-1.3 2.6,-3 1.8,-1.4 2.3,-2.4 1.9,-1.9 2.2,-2.5 2.2,-1.4 2,-2.8 1.6,-2.6 1.9,-2.4 1.9,-3 1.7,-2.9 1.7,-1.8 1.5,-3 1.4,-2.7 1.8,-3.4 1.5,-2.3 1,-3 2.2,-2.4 1.8,-2.8 1.6,-1.6 1.5,-3 1.2,-2.8 1.1,-2.3 0.8,-3.6 1.3,-3.8 0.9,-2 1.2,-4.7 0.9,-2.7 1.2,-2.8 1,-3 1.3,-2.5 1.9,-3.3 2.5,-2.9 2.7,-1.8 3.2,0.8 2.6,1.5 2.1,2 2.8,3.1 1.7,1.8 2,3 2.1,1.1 1.6,3.6 1.4,2.4 1.2,2.3 1,2.4 1.1,3.6 0.7,2.6 0.8,3.7 0.8,1.9 0.5,4.2 0.9,2.4 0.8,3.3 0.4,4.6 0.7,2.2 0.4,2.5 0.7,3.1 0.5,3.4 0.8,2.5 0.6,3.6 0.9,2.8 0.7,3.8 0.6,2.7 0.2,3.3 0.8,2.8 0.5,2.8 1,2.9 0.7,3.9 0.7,2.1 1,2.5 0.3,3.8 0.8,2 0.8,4 0.6,3.1 0.8,2.8 0.4,2.5 1.1,3.7 0.5,2.4 0.5,2.8 0.7,3 0.4,2.6 0.3,4.3 0.8,2.5 0.2,2.9 1.2,2.4 -0,3.4 0.9,3 0.6,2.7 0.7,3.8 0.9,3.1 0.6,3 0.8,2.9 1,2.9 0.5,2.4 0.8,3.7 0.6,2.6 0.6,2.6 1,4 0.7,2.1 0.7,3.1 0.7,4.1 0.7,2.2 0.8,2.7 0.7,2.9 0.8,2.3 1,3.9 0.5,1.6 1.1,4.2 1.1,2.5 1.1,2.8 0.9,2.3 1.2,3.2 1.1,2.7 0.9,3.1 1.3,2.9 0.7,2.8 1.2,2.5 1.5,2.6 1.4,2.6 1.6,2.9 1.5,1.7 1.6,3.7 1.7,2.4 1.6,2.1 1.9,3.4 1.6,2.2 1.9,2.3 1.5,3.5 1.9,1.9 1.2,2.5 1.9,2.7 1.9,2.3 1.8,3.4 3.1,0 2.7,-1.2 1.9,2.8 1.4,1.7 1.6,3.4 1.7,2.7 1.3,3.4 1.4,2.5 2.2,2.9 2.4,1.4 3,0.8 2.9,0.7 3.3,0.8 2.7,1.1 1.3,3 1.2,3.4 1.5,2.3 2,3 2.6,1.1 2.9,-0.1 3.3,0.2 3.2,-0.3 3.2,-0.1 2.7,-0.3 3.4,1.1 2.3,1.7 3.1,2.2 2.3,1.2 2.8,0.6 2.8,2.4 2.9,0.9 2.2,0.8 3.2,0.4 3,-1.2 2.8,-1.9 2.8,-0 2.9,1.5 2.4,0.9 2.9,2.2 3,-2.3 2.3,-1.9 2.9,-2.8 2.1,-2.3 2.5,-1.4 2.5,-1.4 3.1,-2 2.6,-2 2.3,-1.3 2.3,-2.1 2.6,-2.6 1.4,-1.7 1.9,-2.8 2.1,-2 2.5,-1.1 2.6,-1.3 3.4,-1.6 2.7,-1.6 3.3,-0.6 2.7,-0.6 3.1,-1.3 3,-0.1 3.7,-1.5 2.7,-0.8 3,-0.6 3.1,-1.9 2.3,-2 2.5,-1.4 1.8,-1.8 2.1,-2.6 1.7,-2.6 1.1,-3.6 1.3,-3.4 1.2,-3.3 1.1,-1.8 1.8,-3.8 3.1,-1.1 3,0.5 2.8,1.3 3,2 3,1.1 2.6,1.5 2.7,1.2 2.9,2 2.8,0.5 2.8,0.7 2.9,1.2 3.7,-0.6 2.3,1.2 3.3,-0.4 2.7,0.7 2.8,-0.5 2.6,-1.9 2.4,-2.1 2.3,-2.1 2.7,-2.1 2.3,-2.3 2.2,-1.8 2.5,-1 2.7,-2.5 2.5,-1.8 2.3,-2.6 2,-2.1 2.1,-2.8 1.9,-0.9 2.2,-2.9 1.9,-2.7 2,-2.1 1.7,-2.9 1.8,-3 1.3,-2.6 1.4,-2.6 1.4,-2.9 1.3,-2.7 0.9,-3 1.4,-2.9 1.4,-2.2 1,-3.8 1.1,-2.6 1,-2.4 1.7,-3.2 0.9,-2.3 0.9,-3.4 1.3,-2.6 0.9,-3 1.3,-2.6 0.9,-3.4 1.2,-2.7 1.4,-3 1.4,-2.8 0.9,-2.3 1.2,-3.2 0.8,-2.9 1.2,-2.7 1,-2.6 0.7,-3.5 1.2,-2.8 0.3,-2.1 0.7,-3.9 1,-2.9 0.4,-2.3 0.7,-2.5 0.9,-3.1 0.8,-3.8 0.7,-2.9 0.9,-2.8 1,-3.3 0.7,-3.2 1.2,-2.3 0.7,-2.9 1,-2.9 0.8,-3.1 0.7,-2.9 0.6,-2.6 0.9,-3.7 1.1,-2.7 0.8,-2.4 1,-3.1 0.4,-2.8 0.7,-3.7 1,-3.1 0.6,-3 0.9,-3.7 0.7,-1.8 0.5,-3.2 0.5,-2.8 1.1,-3.7 0.4,-2.7 0.4,-3.2 0.6,-3.2 0.4,-2 0.8,-3.4 0.7,-3 0.3,-3.5 1,-2.3 0.3,-3.6 0.7,-2.6 0.8,-3.2 0.5,-2.9 0.7,-3.4 0.6,-2.9 0.7,-2.6 0.4,-3 0.8,-3.5 0.4,-3.3 0.6,-2.4 1,-3.4 0.5,-2.7 0.7,-2.9 0.7,-2.7 0.3,-3 0.4,-2.8 1.1,-3.2 0.7,-3.3 1,-3.9 0.5,-2.7 1,-3 0.9,-3.1 1.2,-2.4 1.3,-2.8 1.2,-2.2 2.1,-3.5 2.2,-1.1 3,-0.4 2.3,1.5 2.4,2.2 2.4,3.1 2,3 1.3,1.8 1.2,3.8 1,2.4 0.8,3.4 1,2.9 1.1,3.3 1.1,3.1 0.7,3.1 0.5,2.6 0.7,2.4 0.8,3.1 0.9,3 0.4,3.3 0.8,3 0.7,2.6 0.4,3.1 1.3,3.6 0.6,2.7 0.7,3.3 0.7,2.7 0.8,3.8 0.8,3 0.9,3.6 0.8,2 1,3.3 0.7,2.2 0.7,3.9 0.6,2.3 0.6,3.6 0.9,2.6 0.5,3.4 1,2.3 0.8,2.5 0.6,2.9 0.8,3.1 0.8,2.9 0.7,3.4 0.6,2.5 0.8,3.2 0.9,2.4 0.9,3.4 0.8,2.5 1,2.7 0.8,3 1.1,2.4 0.9,3.1 1,4.1 0.8,2.1 1.2,3.2 1,1.9 1,3.5 1.5,3.1 1.2,2.6 1.3,3 1.7,2.1 1.5,3.5 1.4,1.7 1.5,2.6 1.5,3 1.4,2.3 1.9,2.7 1.3,1.8 1.8,3 1.4,2.8 1.6,1.8 1.4,3.4 1.5,3.1 1.2,1.7 1.5,3.2 1,3.8 1.3,3.9 1.4,2.2 1,3.4 1.3,1.4 1.3,2.1 1.5,4.1 1.7,2.3 1.7,3.1 1.7,1.8 2.8,0.1 2.8,-1.1 2.3,-1.9 2.5,-2 2.5,-2.3 2.4,-3.2 2.7,-2.4 2.1,-1.9 3.6,1 2.6,0.8 2.3,2.2 2.5,2.7 1.7,2.6 1.7,1.8 2,3.2 1.6,3 1.6,2.9 2.3,2.7 1.3,2.6 1.6,2.4 1.6,2.1 1.8,1.9 1.7,3.7 1.5,1.8 2.6,2.2 1.9,2.6 2.2,1 1.8,2.9 2,2.3 1.7,3.2 1.2,2.4 2.1,2.4 1.4,2.5 1.6,2.7 1.4,2.7 1.7,2.2 1.9,2.1 1.9,2.8 1.5,2.4 1.8,3 1.9,2.8 1.5,2.1 1.5,2.2 1.7,3.1 1.7,2.5 1.6,3.1 1.4,2.3 1.6,3.3 1.6,2.5 1.8,2.2 1.5,2.7 1.8,1.8 2,2.7 2.5,2.4 2.1,1.4 2.6,1.9 2.8,1.2 2.8,1.4 2.3,1.2 2.8,1.9 2.9,1.8 2.7,0.5 2.8,1.2 2.9,1.1 3.1,1 3.1,0.6 2.9,0.7 3.1,0.7 3,-0.2 2.9,-0 2.9,0.3 2.8,1.1 3.2,0.9 2.5,1.9 2.8,1.3 2.6,2.2 2.4,1.9 2.5,1.5 1.9,2.1 2.4,2.3 2.4,2 2.6,2.6 2,2.3 2.6,1.2 2.6,2 2.7,1.7 2.7,1.8 2.6,1.4 2.6,1.3 2.8,1.7 2.5,1.9 3,0.3 2.7,1.8 2.7,1.2 3,1.4 2.6,1.4 2.9,2.1 2.1,0.9 2.8,1.6 2.6,1.7 2.6,1.9 2.5,3.2 2.1,1.7 2.5,1.2 2.3,1.8 2.5,2.6 2.6,1.6 2.1,2.1 2.7,1.8 2,0.7 3.2,2.7 3,1.6 3,0.2 2.9,0.8 3.3,-0.6 2.4,-0.5 3.4,1.2 2.9,1.3 3.3,-0.6 2.4,-1.9 2.7,-1.3 3.1,-2.1 2.7,-2.1 2.2,-1 2.3,-2.5 2.7,-1.8 2.5,-2 2.6,-2.1 2.2,-2.1 2.4,-1.3 2.8,-2.4 2.5,-1.7 2.3,-2.2 2.6,-1.2 2.4,-2.5 2.5,-2 2.1,-2.3 1.6,-2.8 1.7,-2.3 2.4,-2.5 1.3,-2.8 1.6,-3.3 1.3,-2.1 1.5,-2.8 1.2,-2.6 1.1,-2.8 1.3,-2.5 1.3,-3.2 0.6,-3.1 0.4,-2.9 1.1,-2.4 0.3,-3.5 0.5,-2.9 0.5,-3.1 0.5,-3.2 0.6,-2.7 0.4,-3.1 0.7,-3.8 0.5,-3 0.5,-3.1 0.4,-3.9 0.7,-2.4 0.7,-2.6 0.1,-2.9 0.9,-3.6 1.1,-2.9 0.3,-3.2 1,-2.9 1.9,-3.9 2,-2.2 3,-1.5 2.1,1.4 2.2,3.8 1.3,3.4 0.8,2 0.4,3.7 0.8,2.7 0.4,3.1 0.8,3.4 0.6,3.8 0.3,2.1 0.5,4.1 0.3,2.1 0.7,3.6 0.2,3.5 0.5,2.7 0.5,2.5 0.7,3.1 0.4,3.2 1.1,3.7 0.9,3 0.7,2.7 0.5,2.7 1.3,3.8 1,2.3 1.5,3.1 1.8,2.6 2.3,3.1 3.3,0.1 2.8,-1 3,0.1 3.4,-1.3 3.1,-1.3 2.9,-2.1 2.5,-1.5 3,-1.4 3.1,-1.2 3.6,-0.5 2.7,1.2 2.9,0.3 2.5,1.6 2.7,2.4 1.6,2.4 0.9,2.7 0.7,3.7 1.1,3 0.8,3.2 0.8,2.4 0.7,2.9 0.9,3 0.7,2.9 1,2.8 0.8,3.7 0.8,2.7 0.8,2.9 0.9,3 0.5,2.7 1.1,3.5 0.8,2.5 0.9,3.2 0.8,3.3 0.9,3.1 1,2.6 1,3.6 1.2,2.8 0.7,2.6 1.3,3.3 0.7,2.6 1.2,3.2 1.2,2.5 1.4,3 1.1,2.9 0.8,3.7 1.2,2.1 1.5,3 1.1,2.4 1.4,3.5 1.2,2.8 1.3,2.5 1.4,3.3 2,3.1 1.5,2.8 1.3,2 1.7,2.9 1.5,2.1 1.2,2.6 1.5,1.5 2.2,3.3 2,2.4 3.1,2.1 2.7,-1.9 1.9,-1.6 1.8,-3 1.1,-2.8 1.5,-2.6 0.8,-3 0.8,-3.3 0.6,-2 0.7,-3.8 0.6,-2.8 0.5,-2.6 0.5,-3.5 0.6,-3.1 0.7,-3 0.5,-3.1 0.3,-3.3 0.7,-3.6 0.5,-3.2 0.4,-3 0.9,-3.1 0.3,-3.1 0.6,-3.1 0.3,-2.9 0.7,-2.8 0.1,-3.6 0.7,-2.5 0.5,-3.4 0.6,-3 0.4,-2.5 0.4,-3.5 0.3,-3.6 0.1,-2.8 0.8,-2.6 0.3,-3.2 0.5,-3 0.1,-4 0.5,-3.2 0.7,-3.1 0.1,-2.9 0.6,-3 0.3,-2.6 0.2,-3.8 0.4,-2.3 0.8,-3.1 0.1,-3.2 0.7,-3.9 0.6,-2.7 0.4,-3.7 0.3,-3.3 0.7,-2 0.5,-3.4 1.5,-4.3 0.3,-2.3 1.7,-3.4 2.2,-1.7 2.4,1 2.4,3.2 1.1,3.4 1.2,3 1.4,2.6 1,4.1 0.6,2.2 0.2,0.2" stroke="#1b6ddf"/>
<path d="M177.9,1560 L177.8,1179.1l4.1,-1.3 2.6,0.3 2.8,0.5 2.4,1.3 3.6,-2.4 3.5,1.5 3,-0.9 1.8,-1.3 3.2,-0.6 1.4,2.6 1,3.3 1.7,3.6 0.5,1.2 1,5.4 1.3,0.9 0.1,5.3 1.2,3 0.3,6.4 1.4,-0.4 0.4,5.7 0.9,2.3 1.9,0.8 2.3,2.5 3.2,-4 1.6,-2.6 1.3,-2 1.2,-2.4 1.7,-5.4 1.2,-1.7 1.3,-3.5 1.3,-4.5 1.8,-0.5 1.3,-2.4 2.8,0.1 1.5,2.3 1.6,5.7 0.9,3.7 -0,1.4 0.8,4.8 1.3,2.3 0.2,3.9 0,3.7 0.7,4.6 1.2,2.4 1.7,-0.2 2.6,1.3 0.7,-1.9 3.1,-0.8 1.9,-3.3 3,0.1 1.1,3.7 1.1,2.7 0.4,1.1 1.4,5 0.5,2.1 2.5,-0.2 1.3,1.3 0.9,-5.6 1.7,-2.9 0.1,-2.9 0.7,-3.7 0.2,-2.2 2.1,-2.3 1.4,-4.4 1.2,0.8 2.9,-4.6 3.3,0.5 3.5,1.3 3.4,0.4 2.4,-1 2,1.6 2.4,5.4 2.2,-0.5 2.3,-1.6 1.3,-3.6 2.7,-0.3 2.3,3.3 1.7,1.9 2.3,4.3 1.9,3.4 1.7,2.3 1.6,0.2 2.6,1.5 2.9,-3.1 1.8,-1.7 2,-4.6 2.1,2.5 3.2,3.8 2,2.5 2.8,-1.3 2.8,-0.6 3.1,-0.9 0.9,3.6 2.9,2.2 0.6,4.8 2.5,1.6 2.8,1.4 1.9,-2.5 2.6,-1.1 2,-2.8 1.7,-0.8 3.8,-1.3 2,3.5 1.4,-0.1 1.8,4.5 1.6,3.6 1.7,2.7 3.6,0.4 2.5,0.7 2.8,0.9 2.8,1.1 2.2,2.2 2.3,3.4 2.9,1.3 1.5,4.7 3.5,1.5 2.1,-3.5 2.2,-2 0.7,-4.3 1.9,-2.7 2.6,-0.4 2.6,0.1 4.3,2.6 2.4,1.4 3.6,-1.7 2.1,-1.8 2.8,3.1 0.4,3.6 1.6,4.6 0.2,1.1 1.2,4.3 1.2,3.6 1.4,2.7 3.5,-0.1 3.6,-0.1 3.1,-0.2 3,-3 2.6,-2.4 2.4,-1.5 3.5,-1.6 2.3,-2.7 2.7,2.5 3.1,-0.1 1.7,3.7 0.8,2.3 1.5,3.2 1.3,2.6 0.2,1.8 1,4 1.4,4.1 0.8,1.2 0.5,2.7 1,2.3 0.8,3.9 1.1,3.4 2.1,2.3 1,-1.3 1.7,-2.6 0.5,-2.1 1,-5.5 0.5,-3.9 -0,-2.4 0.5,-0.7 0.3,-2.7 0.2,-2.8 0.5,-5.4 1.7,-2.3 0.6,-2.3 2.3,1 0.7,2.7 1.5,3.1 0.8,5.1 0.1,0.8 1.2,3.4 0.9,2.1 0.7,3.1 1,4.5 1.5,-0.3 1.8,0.1 1.6,-3.9 0.8,-3.4 1.2,-3 0.7,-1.4 1.1,-2.9 0.7,-5.1 1.4,-0.1 2.6,-3.1 2.5,0.4 1.7,3.4 1,4.1 1.2,0.6 0.5,1.6 0.5,3.6 2.4,2.3 1.6,0.7 1,-2.6 0.5,-3 2.2,-3.1 0.1,-2.8 1,-3.1 0.6,-1.7 1.1,-3.3 1.4,-2.1 1.8,-1.9 2.2,4.3 1.8,0.9 0.5,5.7 1.6,-0.2 0.6,3.8 2.3,4.3 1.7,0.5 3.3,-2.7 1.4,-1.3 2,-1 2.2,-0.4 1.6,3.5 2.9,4.1 1.4,1.9 4.3,0.3 3.3,0.7 1.1,2.4 0.9,2.9 1.5,3.4 0.7,2.6 1.9,4.5 2.4,-0.2 2.2,-1.6 0.3,-0.6 1.5,-1.8 2.9,-5.2 1.6,-3.2 3.2,-0.5 2.4,-4.8 2.5,2.7 1.4,2.4 0.7,1.4 0.5,5.8 0.5,3.1 2.1,3.5 -0.7,3.1 0.3,1.7 1.3,4.5 1.4,2.5 1,3.7 0.2,1.3 2.9,2.4 1.4,-2.2 0.8,-3.7 1.1,-1.5 1.5,-3.1 0.1,-2.9 2.4,-1.6 2.6,-3.6 2.2,-2 3.5,-1.2 1.9,3.2 2.3,2.2 0.6,3 1.2,4.1 3.5,-1.1 2.3,-2.1 0.6,-2.4 1.8,-5.3 3.4,1.8 1.5,1 3.5,2.5 2.7,0.7 3.1,1.7 2.6,3 2.4,1 2.8,0.2 3.3,1.9 3.7,1.1 2.8,1 2.8,1 2.8,-0.6 3.5,-2.3 2.7,-1 1.5,1.3 1.7,5.8 2.1,2.5 1.7,-0.8 3.8,0.8 3.4,-3.6 3.1,1 3,1 3,-1 2.4,1.2 2.5,3.3 3.2,1.6 2.1,-0.2 2.8,0.1 3.7,-1.2 2.9,0.4 2.3,1.3 2.1,2.9 1.7,2.9 2.4,2.2 2.7,1.3 2,-0.5 3.2,-2.9 3.3,-0.4 3.2,-0.7 1.6,4.7 2.4,2 2.8,1.1 2.6,3.1 2.4,-4.3 2.5,-0.6 3.2,1.9 3.2,-1.2 2.8,4.4 3.1,0.9 2.1,0.8 3.7,-1.1 2.8,-2 1.9,-2.4 3.1,0.9 1.3,3.4 2.1,2.5 3,4.7 2.3,-0.9 2.8,2.9 2.4,0.4 2.6,2.2 3.9,1.6 2.2,0.9 3.7,-2.4 2.7,-0.5 2.8,0.5 3.2,-1.5 3.3,0.9 2.8,0.5 3,2.4 3.4,-0.7 2.4,2.8 2.7,1.1 3.3,-0.7 2,0.3 3.8,0.3 2.9,1 2.5,2 3.2,0.2 2.4,2.7 3,-1 2.6,2.8 3.6,0.6 2.6,-2.5 3.3,2.1 3.9,2.5 2.1,0.8 2.9,-1.1 3.3,-1.6 2.4,-0.6 3.2,0.4 2,1.8 2.4,3.9 2.3,2.9 2.9,-2.5 3.1,-0.5 3.2,-1.2 2.8,-2.4 3.1,0.5 3.1,2.4 3.5,1.8 3.1,2.2 3.4,-1 2.4,2.3 4.7,0.2 2.8,-0.2 3.1,-1.6 2.4,-1 2.2,0.6 2.5,2.5 2.4,3.1 3.2,-2.2 2,0.7 3.4,0.6 4.2,-0.7 2.9,-2.3 2.5,-0.9 2.2,-0.2 4.1,-0 2.5,-0.6 2.8,2.2 3,1 3,1.9 2.6,0.5 2.9,0.6 3.7,0.4 3.3,0.9 2.2,-1.5 2.7,-0.5 2.8,-2.4 2.8,1.8 3.5,-2.3 3.1,-1.5 3.1,0.9 2.6,-2.5 2.5,-1 1.7,-2.6 1.9,-2.1 2.3,-3.5 2.6,-2.1 1.9,0 3.4,-5.6 1.9,-1.7 2.3,-2.1 2.2,-0.9 2.5,-1.9 1.7,-2.2 1.9,-2.5 1.7,-2.9 1.6,-2.6 1.2,-1.6 1.2,-3.6 0.9,-2.6 0.9,-2.4 0.2,-3.4 0.7,-3.2 0.3,-3.6 0.9,-3.4 0.4,-3.1 0.9,-3.2 0.4,-2.5 0.8,-1.8 0.9,-3.8 1,-2.9 0.7,-3.1 0.7,-3 0.4,-2.6 0.8,-2.6 1.1,-2.9 0.6,-3.5 0.6,-3.6 0.9,-3.1 0.7,-2.6 0.8,-3.1 0.7,-3.5 0.5,-3.2 1.1,-2.7 0.8,-3.8 0.4,-2.3 0.9,-1.9 1.1,-4.3 1.7,-1.6 2.1,-3.1 1.4,-2.9 0.8,-4 0.1,-2.6 0.2,-2.8 0.8,-2.9 -0.1,-3.7 0.4,-3.1 0.1,-2.7 0.6,-3.9 0.5,-2.6 0.3,-2.8 0.5,-2.8 0.2,-3 0.5,-3.3 0.8,-3.5 0.1,-2.8 0.6,-2.5 0.4,-2.7 1,-4 0.5,-3.2 0.8,-2.9 0.7,-3.3 1,-3.6 0.5,-3.3 0.7,-2.9 0.6,-2.8 0.5,-2.7 0.9,-4.3 0.6,-2.5 0.7,-3.6 0.7,-3 0.6,-2.8 0.8,-2.8 0.4,-3.3 1,-3.5 0.6,-3.3 0.5,-2.7 0.7,-2.7 0.8,-3.7 0.7,-2.9 0.4,-2.8 1,-3 0.3,-2.9 0.8,-3.5 0.9,-2.5 0.3,-4.1 1,-2.4 0.5,-4 0.7,-2 0.3,-2.1 0.7,-4.1 1.1,-2.7 0.7,-3 0.5,-2.8 0.5,-3.1 1.2,-2.7 0.4,-2.1 0.8,-3.5 0.7,-3.1 0.5,-2.5 0.8,-2.7 0.6,-3.6 0.7,-2.9 0.6,-3.2 0.7,-2.7 0.8,-3.3 0.1,-3 1.2,-3.4 0.2,-2.9 0.3,-2.8 1.1,-3.3 1,-3.1 0.6,-3 1.3,-1.9 1.2,-3.1 1.1,-2.8 2.2,-2.5 2.1,-1.7 1.7,-2.7 1.4,-2.4 0.2,-3.3 -0,-2.4 0.2,-4.2 0.7,-2.2 2,-2.7 2.2,-1.7 1.5,-2.8 0.5,-3.5 0.8,-2.5 0.6,-3.6 1,-2.8 1.4,-3.1 1.5,-2.2 2,-2.6 1.8,-3.2 2,-2.5 1.9,-2 1.2,-2.7 2.2,-2.4 1.3,-3.2 1.7,-2 1.1,-3.8 0.5,-2.4 0.6,-3.3 0.5,-2.6 -0.2,-3.9 0.7,-3.1 0.1,-2.9 0.3,-3.5 1,-2.2 1.2,-3.6 1.3,-2.8 1,-3.1 1.5,-2 1,-3.2 0.8,-2.5 0.9,-3.8 1,-2.8 0.7,-2.8 1.1,-3.1 0.9,-2.9 0.7,-3.3 1.1,-3.2 1.1,-2.8 0.7,-3.3 1,-2 1,-3.7 0.7,-2.7 0.9,-3.9 0.8,-2.6 1,-3.5 0.9,-2.5 1.1,-2.1 1.8,-2.3 2.9,-2.6 3,-0.7 3.1,2 2.9,2 1.6,2.7 1.3,3.5 1.2,2 1.1,3.5 1.5,3.5 0.7,2.1 0.7,3 0.7,3.2 0.7,1.9 0.6,3.4 0.7,3.3 0.7,2.7 0.3,3.6 0.6,2.7 0.3,3 0.5,2.8 0.3,2.4 -0,3.2 0.8,2.9 0.4,4 0.4,3.2 0.3,3.5 0.5,2.5 0.3,3 0.7,2.8 0.2,2.7 0.6,3.1 0.2,3.7 0.6,2.1 0.4,4.5 0.6,2 0.3,3.7 0.6,2.9 0.3,3.1 0.7,3 0.1,2.3 0.5,4.1 0.4,2 0.4,3.9 0.2,2.7 0.7,3.4 -0,1.8 0.7,3.9 0.3,2.7 0.4,3.5 0.2,2.7 0.6,2.7 0.4,3 0.7,3.3 0.7,3 0.2,3.2 0.5,3.4 0.4,2.6 0.4,3 0.5,3.4 0.5,2.7 0.4,3.2 0.4,3.1 0.4,2.9 0.8,2.9 0.2,2.5 0.5,3.4 0.5,2.8 0.4,3.8 0.4,2.3 0.2,3.1 0.7,3.2 0.2,2.5 0.4,3 0.5,3.4 0.6,2.9 0.4,2.4 0.4,3.8 0.2,3 0.5,3.5 0.4,1.9 0.1,4.4 0.7,2.8 0.4,2.3 0.4,3.3 0.6,2.8 0.5,3.5 0.3,2.6 0.4,3.4 0.8,3 0.4,3.3 0.5,3.3 0.6,2.9 0.5,2.4 0.3,3.2 0.2,2.8 0.6,3.7 0.2,3 0.8,3.7 0.1,3.2 0.2,2.4 0.6,2.8 0,3.1 0.8,1.7 0.2,3.4 0.4,3.1 0.8,3.1 0.1,2.8 0.3,2.8 0.7,3.6 0.5,3 0.4,2.7 0.7,2.6 1.1,3.2 0.1,2.7 0.5,2.9 0.8,3.3 0.5,3.3 0.5,3.2 0.8,3.2 0.6,3 0.8,3.4 0.5,3 0.6,2.4 0.9,3.4 0.4,2.7 1,3.8 0.7,3.2 0.7,2.5 1.1,2.9 0.7,3.2 0.6,2.8 1.1,2.6 0.4,2.6 1.1,3.1 1.1,3.2 1.2,3.5 0.5,2.7 1.3,3.3 0.6,3 1.1,3.3 0.9,2.2 1.2,2.5 1,3.6 1.2,2.5 1.2,3.5 1.2,2.4 1,2 1,3 1.2,2.5 1.1,2.9 1.3,3.3 1,3.6 1.1,2.8 1.3,3.2 1.2,2 2.8,2.8 2.4,0.6 2.5,2.7 1.2,1.1 0.9,2.9 1.5,3.5 1.3,3.5 1.2,2.9 1.7,2.7 1.6,2 2.1,2.6 2,1.9 1.9,3.2 2.7,1.4 2.1,2.4 2,2.3 2.2,2.6 1.7,1.9 0.9,3.2 1.6,3 1.4,3.1 2.5,1.6 3.2,0 3.1,-0.8 3.2,0.1 2.5,0.9 2.7,1.9 2.6,1.9 2.6,2 2.7,1.5 3.1,1.1 3,1.1 2.8,1.1 3.3,1.2 2.9,0.9 3.2,0.2 2.7,0.9 3.2,-1 2.5,-2.2 3.5,1.2 3.1,2.5 2.7,-1.4 2.5,-2 1.8,-2.4 2,-2.7 1.7,-3.7 2.2,-1.9 2.1,-2.4 2,-1.7 2.4,-2.7 2,-3.2 1.7,-2.2 1.4,-3 1.5,-3 1.2,-2.4 1,-3 1.4,-2.3 1.8,-2.8 2.2,-0.7 2.9,-2.3 2.7,-1.4 2.9,-0.7 2.5,-2 3.1,-0.8 2.7,-1.1 2.7,-0.9 3.1,-1.3 2.6,-0.9 3,-2.2 2.6,-1.5 2.7,-1.6 1.8,-2.6 1.9,-2.8 1.7,-2 1.8,-3.7 1.5,-2.2 1.5,-2.4 1.5,-3 1,-3.4 1,-2.4 1.3,-2.8 0.9,-3.8 0.5,-3.1 0.5,-3.1 0.7,-3.1 0.9,-2.9 2.6,-1.2 3.5,0.9 2.7,1.3 3.1,1 3,1.9 2.7,2 2.7,1.2 3.2,1.4 2.4,2 2.6,1.1 2.9,1.9 2.9,1.7 2.8,0.1 2.8,0.2 3.1,-1.1 2.8,-0.1 3.2,-2 2.9,-2.4 2.2,-1.1 1.9,-2.6 2.2,-1.6 1.9,-3.2 2.2,-2.5 1.9,-3.1 1.3,-2.5 1.3,-2.7 1.3,-2.4 1.3,-3 1.3,-3.4 1.6,-2.8 1.5,-2.3 0.7,-3.1 1.7,-2.4 1.4,-2.9 1.7,-2.5 1.3,-3 1.2,-2 1.4,-3.6 1.3,-1.9 1.2,-3.5 1.3,-2.2 1,-3.3 1.1,-1.8 1,-3.2 1.1,-3.3 0.8,-3.1 1.4,-3 0.9,-3.1 0.9,-2.3 1.1,-2.8 1.1,-3 1,-2.1 0.9,-3.7 1.2,-3.3 0.9,-2.4 1.1,-2.9 1.2,-2.5 0.6,-3.4 0.8,-1.9 0.7,-2.9 0.8,-3.9 1,-2.9 0.9,-3.1 0.7,-3.3 0.8,-2.1 0.7,-3.1 0.8,-3.4 0.3,-2.5 0.8,-3.1 0.5,-2.6 0.6,-3.5 0.7,-2.8 0.5,-3.6 1,-3 0.4,-2.8 0.4,-3 0.7,-2.9 0.3,-3.1 1,-3.3 0.6,-1.9 1,-3.6 0.4,-3.4 0.8,-3 0.4,-2.6 0.5,-3.4 0.9,-3.2 0.4,-2.2 0.5,-3.5 0.5,-2.7 0.7,-2.6 0.1,-3 0.6,-3.2 0.2,-2.9 0.2,-3.1 0.7,-2.2 0.5,-3.6 0.3,-3.9 0.2,-2.6 0.6,-3 0.1,-2.9 0.6,-2.4 0.3,-2.8 0.5,-4.1 0.5,-2.8 0.5,-3 0.6,-2.8 -0,-3.2 0.6,-3.5 0.2,-3 0.2,-2.7 0.8,-2.8 0.4,-3.4 0.7,-2.7 0.4,-3.6 0.7,-2.3 0.3,-2.6 0.4,-3.4 0.3,-2.9 0.1,-2.9 0.4,-3.2 0.3,-2.9 0.4,-2.4 0.4,-3.6 0.2,-3.3 0.4,-3 0.3,-3.2 0.5,-2.8 0.1,-2.8 0.4,-3.2 0.4,-3.3 0.4,-3.1 0.2,-2.7 0.5,-3.6 0.3,-2.5 0.5,-2.9 0.4,-2.9 0.2,-3.3 0.6,-2.9 0.3,-2.8 0.6,-2.9 0.2,-3.5 0.6,-3.2 0.2,-2.2 0.5,-3.5 0.7,-2.4 0.5,-3.3 0.3,-3 0.6,-3.6 0.4,-2 0.5,-3.3 0.6,-2.8 0.4,-3.6 0.9,-2.8 0.4,-3.4 0.2,-2.5 0.7,-2.4 0.3,-4.1 0.2,-3 0.5,-2.7 0.4,-3.2 0.7,-2.5 -0.1,-3.8 0.6,-2.3 0.4,-2.8 0.4,-3.1 0.2,-3.6 0.6,-2.7 -0,-3.3 0.7,-2.7 0.4,-2.6 0.6,-3.2 0.6,-3.6 0.5,-3.6 0.7,-2.4 0.6,-3.4 0.3,-2.9 0.7,-2.6 0.8,-3.6 0.5,-2.9 0.8,-2.8 0.6,-4 0.5,-2.6 1.7,-3.3 1.4,-2.6 2.5,-1.9 2.7,-0 2.2,0.8 2.9,2.4 2.2,2.9 1.6,2.1 1.2,3.1 0.8,2.5 0.7,3.6 0.8,3 0.5,3.6 0.7,3.2 0.3,2.1 0.7,3 0.3,2.7 0.7,2.8 0.2,2.9 0.4,4.4 0.8,2.2 -0.1,4 0.5,1.7 0.5,3.1 0.2,3.7 0.5,2.3 0.6,3.3 0.5,3.2 0.5,3.4 0.5,3.1 0.1,2.9 0.4,2.3 0.2,3.7 0.2,2.5 0.5,3.3 0.4,3.1 0.4,2.7 0.3,2.4 0.5,3.4 0.3,3.5 0.6,3.1 0.5,2.3 0.3,4 0.5,2.1 0.5,3.2 0.5,3.6 0.6,2.3 0.5,4 0.5,2.6 0.6,3.1 0.4,2.3 0.4,3 0.9,3.5 -0,3.4 0.4,2.5 0.4,3.2 0.4,3.5 0.1,2.5 0.4,3.5 0.5,2.9 0.5,2.6 0.3,3.6 0.5,2.8 0.3,2.6 0.4,3.1 0.5,2.6 0.7,3.2 0.3,3.5 0.4,2.2 0.8,3.7 0.4,3.3 0.7,2.3 0.4,2.7 0.6,4.1 0.5,2.8 0.5,2.6 1,3.7 0.6,2.7 0.9,1.9 0.2,4.4 1.3,2.7 0.4,3 0.8,2.9 0.8,3.4 0.9,3.5 0.9,3.1 0.5,3.2 0.6,2.4 1.1,2.4 1.1,2.8 0.7,3.8 1.2,3.4 1,2.6 0.8,2.1 1.1,2.1 1.4,3.2 1.3,2.1 1.2,2.6 1.6,3.3 1.3,3.1 1.2,3.4 1,2.6 1,2.8 1.3,3.2 1,3.6 1.2,3 0.8,2.9 1,2.7 1,3.4 1,2.5 1,2.8 0.7,3.8 1.2,2.6 0.5,2.8 0.7,3.1 0.9,2.8 1,3.1 0.8,3.6 0.6,2.5 0.5,2.5 0.9,3.6 0.7,2.7 0.8,2.8 0.5,3.9 1.2,2.1 0.9,4.2 0.6,2.7 0.7,3.5 1.1,2.9 2.1,4.3 2.6,0.8 3,-0.5 2,-2 2.7,-2.6 2.3,-2.6 2,-2.5 2.4,-2.2 2.6,-3.1 2.1,-2.4 3.3,1.5 2.5,1.4 2.7,2.3 1.6,2.4 1.5,2.6 1.4,3 1.2,3.4 1.4,2 1.4,2.8 1.2,2.8 1.6,2.1 1,3.1 1.6,3.2 1.3,3.2 1.4,2.2 1.5,3.2 1.4,2.4 1.3,2.8 1.5,2.7 1.3,2.3 1.3,3.8 1.5,2.3 0.9,3.5 1.6,3.1 1.2,2.2 1.2,2.9 1.5,2 1.3,4.2 1.1,1.6 1.2,3.1 0.9,2.5 1.3,2.7 1.2,3.6 1,3.3 1,2.7 1,2.5 1.4,2.8 1,3.2 1.3,3 1,2.2 0.9,3.4 1.5,1.5 1,3.5 1.1,3 0.9,2.8 1.1,3.3 0.9,2.3 1.2,3.4 0.9,2.9 1.2,3.4 0.8,2.5 1.1,2.3 0.9,3.3 1.3,3.1 1.5,3.3 0.9,3.4 1.2,2 1.4,3.2 1.2,2.8 1.2,2 1.4,2.9 1.9,2.4 1.5,2.7 2.1,3.3 1.6,1.9 1.7,2.5 2.1,2.1 2.1,3 2.4,1.8 2.1,1.9 2.7,1.6 2.4,1.9 2.5,1.3 2.7,1.5 3.3,0.9 2.9,0.7 2.9,1.4 2.7,0.7 2.9,0.2 3.4,0 2.5,0.5 3.2,0.2 2.2,0.7 2.4,2.8 2.6,1.1 2.5,3 2.1,2.2 2,2.5 2.1,1.7 1.3,2.8 1.6,2.9 1.7,3.1 1.7,2.8 1.7,2.7 1.4,2.3 1.8,2.2 2.1,2.9 1.5,1.7 1.8,3.4 1.9,1.9 2.1,2.4 1.9,2.4 2.1,2.4 2.3,1.6 2.2,1.9 2.7,1.8 2.3,1.4 2.3,2.6 2.5,1.8 2.3,1.9 2.4,2.5 2.3,0.9 2.5,2.1 2.4,2.2 2.2,1.5 2.2,1.7 2.1,2.2 2.2,2.6 1.8,1.9 1.9,2.6 1.8,2.9 1.9,1.7 1.7,3.3 2,2.1 1.7,3.2 1.8,1.5 1.8,3.2 1.7,1.9 2.2,2.6 2.1,2.4 2,2.5 2.6,1.9 1.8,2.1 2.7,1.8 3,1.5 3.1,1.5 2.9,0.6 3.3,-0.7 2.8,0.2 2.9,-1.3 2.1,-2.5 2.3,-1.2 2.7,-2.7 1.9,-2.5 2,-1.6 1.4,-2.3 2,-3.4 1.7,-2.4 2.4,-1.5 1.4,-3.6 2,-2.1 1.7,-3.1 1.8,-2.2 1.6,-2.1 1.9,-3.1 2.2,-1.6 1.8,-2.7 1.6,-2.5 1.8,-2.1 2.1,-2.7 1.5,-2.4 2.2,-2 1.6,-3.2 1.5,-2.3 1.6,-2.4 1.3,-3.8 1.3,-2.3 1.5,-2.4 1.8,-3.3 1,-2.6 1,-2.8 1,-2.2 1.1,-3.3 1.2,-2.6 0.7,-3.3 0.8,-3.1 1.1,-3.1 0.6,-2.7 0.3,-3.4 1,-3 0.4,-3.1 0.9,-3.1 0.2,-3.2 0.4,-2.7 0.5,-2.8 0.7,-2.8 0.6,-3.6 0.1,-3 0.8,-3.4 0.2,-2 0.6,-2.8 0.4,-3.6 0.4,-2.9 0.3,-3.1 0.3,-3 0.6,-3.2 -0.2,-3.2 0.7,-2.9 0.2,-3 0.3,-3.5 0.4,-2.7 0.5,-2.6 0.1,-3.7 0.7,-2.4 0.5,-3.6 0.5,-3.8 0.2,-2.5 0.5,-2.4 0.7,-3 0.5,-2.6 0.9,-4 0.6,-2.7 0.6,-2.7 0.6,-3.6 1,-2.4 1.1,-2.7 2.2,0 0.9,3.6 0.5,2.8 1.3,4.1 0.7,2.3 0.2,3.9 0.8,3.6 0.2,2.4 0.8,2.8 0.1,3 0.6,3.9 0.3,3 0.4,2.9 0.3,3.1 0.5,2.9 0.3,3.4 0.3,2.3 0.9,3.5 0.1,2.5 0.6,3 0.5,3.2 0.3,3.4 0.5,2.2 0.7,1.7 0.3,4.1 0.7,2.8 0.4,2.9 0.2,3 1,2.9 -0,3.7 0.8,3.4 0.2,2.8 0.5,3 0.5,3.3 0.6,2.9 0.5,4.2 0.5,3.4 0.9,2.5 0.4,3.5 0.9,2.3 1.1,2 1.2,3.9 1.6,2.2 3.1,0.7 2.8,-2 3.1,-1.3 3.1,-1.5 2.6,-2.3 3.3,-1.6 2.3,-1.2 2.6,-1.8 2.2,-2.6 2.3,-1.7 2.3,-0.6 3.3,-1 2.2,1.2 2.4,1.9 1.4,2.5 1.1,3.5 0.1,2.6 0.9,3.5 0.8,4.2 0.6,3.3 0.5,2.4 0.5,2.9 0.4,2.5 0.5,3.5 0.6,2.5 0.7,3.9 0.5,3.2 0.7,2.4 0.4,2.5 0.4,3.7 0.6,3 0.7,2.2 0.5,4.4 0.6,2.6 0.5,2.5 0.4,4.6 0.8,1.7 0.6,2.6 0.7,4.3 0.2,2.5 0.6,3.2 0.5,2.6 0.9,3.3 0.3,2.3 0.4,3.9 0.9,2.6 0.6,3 0.3,3 0.7,3 0.9,3.2 0.3,2.7 0.5,2.8 0.5,3.1 0.8,2.6 0.8,2.8 1.1,4.1 0.4,3.1 1.1,1.3 0.8,3.4 0.6,3.2 1.3,3.1 0.6,2.5 1,3.6 1,2.1 0.9,2.6 1,3.9 0.8,2.7 1.3,3.1 0.9,2.9 1.4,3.4 0.6,2.1 1.3,2.9 0.9,3.1 1.5,3.2 0.6,2.3 1.3,3.3 0.9,3.4 1.3,2.9 0.9,2.9 1,1.9 1.1,2.5 1.7,4.3 0.7,2.5 1.4,2.5 0.9,2.4 1.4,3.3 2,2 2.1,-0.9 1.4,-2.3 1,-3.2 1.2,-2.6 0.9,-4 0.5,-2.3 0.5,-2.9 0.9,-4 0.4,-2.7 0.4,-3.4 0.3,-3.3 0.5,-2.1 0.4,-2.7 0.4,-2.9 0.1,-2.9 0.9,-3.8 -0.3,-2.8 0.7,-3.1 0.4,-4.1 0.2,-2.7 0.4,-3.8 0.2,-3.1 0.3,-3.2 0.3,-3.8 0.3,-2.5 0.3,-4.3 0.2,-2 0.3,-2.3 0.5,-3.7 0.3,-1.9 0,-4.1 0.4,-2.7 0.5,-3.7 0.2,-3.3 -0.1,-2.5 0.7,-3.5 -0,-3.6 0.6,-2.9 -0.2,-2.7 0.6,-2.9 0.1,-3 0.3,-3 0.2,-2.9 0,-2.4 0.4,-3.8 0.3,-2.5 0.4,-3.8 0,-2.7 0.6,-3.7 0,-2.7 0.5,-3.8 0.2,-2 0.2,-3.2 0.2,-2.9 0.8,-3.8 -0.1,-2.5 0.2,-3 0.6,-3 0.2,-3 0.3,-3 0.4,-2.5 -0,-3.5 0.3,-2.8 0.5,-3.9 0.1,-3 0.1,-3 0.3,-2.9 -0,-3.1 0.3,-4 0.6,-2.4 0.2,-3.1 0.1,-2.7 0.5,-2.7 0.2,-2.7 0.6,-3.4 0.2,-4 0.8,-2.5 0.7,-3.5 0.3,-3.3 0.8,-2.6 0.7,-2.5 0.6,-3.9 0.9,-1.9 0.9,-2.7 1.4,-3.3 2.1,-2.5 2.1,-2.3 1.8,2.8 1.4,3.4 0.8,4 0.8,2.5 0.9,2.5 0.5,4.1 1,3.4 0.6,3.8 0.8,3 0.5,2.6" stroke="#36ad6b"/>
<path d="M177.9,1560 L178,1010.2l3,-0.6 2,3.7 2.2,1.1 1.4,2.7 1.9,2.8 3.7,3.5 0.5,2 2.4,2.4 0.5,4.1 1,2.7 0.7,3.1 2.2,4.9 0.6,1.8 2,1.7 2.9,1.2 3.3,-1.4 1.6,3 1.1,1.4 0.9,3.1 1.3,4.1 0.3,2.8 1.3,4.4 1.1,3.8 0.1,1.6 1.5,3.6 3.3,1.5 3.2,-3.5 2.6,-2 2.8,-0.2 3.4,1.7 1.1,4.2 1.6,2.3 0.9,-0.1 1.3,6.1 1.2,3.1 1.1,4.5 1.3,2.2 0.6,2.7 1.3,2.1 0.9,4 1,2.2 1.5,4.7 0.9,2.7 1.9,0.6 1.6,1.9 1.5,-1.6 0.3,-2.8 2,-3.9 0.5,-1.6 0.1,-3.5 1.1,-3.4 -0.7,-3.1 1.3,-4.7 2,-1.5 3,-0.9 3.5,-1.9 0,-2.7 1.4,-2.9 0.2,-4.9 0.8,-1.4 -0.7,-3.1 0.5,-2.5 1.9,-4.6 1.3,-1.7 2.1,2.5 2.4,0.6 2.3,5.9 1,1 2.6,2.7 1.4,2.8 2.8,0.7 3,-0.7 2.2,-1.8 3.6,-0.9 2.8,-1.9 2.4,-2.9 2.7,-0.4 2.1,0.7 2.1,2.5 1.6,2.6 2.1,3.5 1.8,3.9 1.5,3.4 1.6,3.2 1.3,0.4 2.8,3.4 2.3,-1.8 2.5,-3.1 3.1,2.6 2.3,0.5 3.3,3.2 1.5,3.3 3.2,0.1 2.8,0.4 2.9,-0.1 2.3,0.8 0.9,4.8 2.3,0.2 2.2,4.3 1.4,3.7 1.8,-0.3 3.5,-2 3.2,-1.8 3.2,-0.6 2.2,3.9 2,0.9 3.1,-0.2 4,2.3 2.2,0.9 2.6,3 2.3,0.9 2.4,4.1 2.2,2.4 1.9,3.1 0.2,3.2 2.5,0.4 1.5,5.3 0.6,1.5 2.2,3.8 1.7,2.9 1.7,-0.8 2.7,-2.4 1.7,-2.7 3.6,-0 1.7,-2.9 3.4,2.9 1.8,3 2.6,1.7 1.5,1.8 2.6,4.7 1.7,-0.2 2.3,3.7 0.6,2.7 1.5,4.5 0.8,2.2 2.2,2.7 2.2,1.1 3.2,-0.7 0.9,4.3 2.6,2.1 0.6,3.1 1.7,3.4 1.9,4.3 1.3,3.4 1.3,0.5 3.5,1 1.2,-2.2 2.4,-0.9 3.4,-1.2 1.5,4.1 1,4.2 1.3,2.2 1,2.8 1.2,3.3 1.4,2.9 1.4,4.2 0.3,1.7 1.7,5.8 0.6,2 1.8,4.6 1.2,1 0.9,4.4 1.5,1.6 1.7,2 2.2,-2.2 1.8,-2.2 -0.1,-3.6 0.9,-2.9 1.4,-2.2 0.1,-4.3 0.6,-1.7 0.9,-2.4 2,-3.8 2.4,0.7 0.3,5.8 1.2,3.7 0.9,3.2 0.4,1.4 1,2.5 0.4,2.9 2.3,3.3 1.8,-0.6 2.5,-5.4 1.4,-0.2 1.3,-3.6 1.3,-1.6 2.6,-2.3 1.6,1.1 1.2,2.7 3.4,0 0.8,-1.8 1.2,-5.2 1.7,-1.3 0.3,-4.9 1,-3.6 0.9,0.9 1,-4.5 1.5,-3.3 1.6,-2.8 2,-2.7 2.1,-0.7 1.4,3.8 2.1,1.8 1.6,4.1 0.6,2.9 1.3,3.3 1.3,2.2 0.8,2.5 1.8,2.3 1.6,3 2.5,0.1 2.7,-2 1.4,-3.3 0.8,-2.2 3.2,-3.1 2.4,2.8 -0.4,5.2 2.1,0.6 0.9,5 1.5,2.3 1.5,3.2 0.1,2.8 1.2,4.8 1.3,1.8 1,2.2 1.3,4.4 1.4,2.1 2.6,0.4 1.7,-2.1 0.7,-2.5 1.7,-3.3 2.1,-0.7 3.1,-4.5 2.8,-0.2 3.3,-1.5 2.2,2.9 2.2,2.9 1.2,0.3 1.7,3.8 1.3,2.6 1.9,3.1 2.5,-0.8 1.8,-3.2 1.6,-3.5 0.5,-2.9 1.1,-1.6 1.7,-3.7 1.5,-2.2 2.3,-2.5 1.8,2.6 1,5.4 0.4,0.4 1.7,4.3 0.4,0.2 0.5,4.8 2.3,4 0.6,3.1 2.6,0.2 1.4,-1.7 1,-6.3 1.1,-1.6 0.9,-3.4 0.5,-3 0.7,-1.6 0.8,-1.1 0.3,-4.3 2,-4.1 1.6,-0.9 2.7,0.1 4.3,1.3 2.6,2.3 2.3,1.7 1.7,1.9 2.5,3.6 2.6,-0.1 3,0.4 3,0.7 3.1,-0.1 3.7,-1.4 2.3,-0.6 3.7,1 2.2,-1.1 3.7,-1.7 2.9,2.4 2.4,0.4 2.2,3.8 3.6,1.6 2.1,1.1 1.8,2.4 4,0.5 2.7,-1 2.8,-1 3.4,-0.1 2.3,2.8 1.6,2.4 3.1,-0.1 2,-1.8 2.4,-0.2 3.9,0.8 3.2,1.6 2.5,2.8 3.7,-0.3 3.5,0.1 2.6,-1.5 3.1,-2.3 2.3,2.4 2,2.1 1.4,6.7 2.4,-0.8 2.2,2.8 1.9,4.6 4.1,-3 2.2,-0.7 4.1,-1.2 2.1,-0.7 1.7,3.7 3.3,2.4 1.9,3.1 2.4,-0.4 3.2,-3.9 2.7,-0.1 2.7,1.6 1.8,3.9 2.2,2.9 2.2,2 2.4,1.6 2.7,-3 3.6,-1.6 3.8,2.3 2.7,2 3,1.9 3.6,1.3 1.9,2.3 3.4,-2.8 2.7,0.3 3.5,-1.3 2.4,1.9 3.2,1.1 2.4,3.7 3,1.1 2.8,0.2 3,2.9 3.2,2.4 4,0.2 2.3,-2.2 2.9,0.8 2.9,-0.4 2.6,0.4 3.2,1 3.7,1.2 2.8,0.8 2.5,0.6 2.9,0.7 2.6,3.8 3.3,0.3 3,0.1 3.2,0.7 2.6,-0.2 3.1,1.3 2.9,1.6 2.9,2 2.7,-1.1 3.2,2.9 2.9,0.4 3.3,-0.4 4.1,0.9 2,-0.3 3.3,1.9 4,1.5 2.1,-1.3 2.6,-0.2 3.7,-1.7 3.1,2.5 2.1,-2.6 3.4,3.2 3.3,2.3 2.4,0.1 3.3,0.2 3.4,1.5 2.8,2.6 3.4,0.6 2.8,0.1 3.7,-0.4 3.8,-3.2 2.4,0.4 3.2,0.5 2.6,-0.4 4.3,1.5 1.9,1 3.1,1.4 2.9,1 3.3,-0.5 2,-1.3 3.6,-1.8 2.9,-1 3.2,-0.5 2.4,2.8 4,1.3 3.5,-1 2.5,-0.8 3.2,0.2 1.9,-2.2 1.3,-4 0.9,-3.4 1.6,-2.4 1.8,-2.2 3,-2.6 1.5,-2.4 2.9,-2.3 2.6,-1 2.5,-3 0.4,-3 2.9,-2.7 1.5,-2.2 1.3,-3.4 0.9,-3.6 1,-2.3 0.9,-3 0.9,-2.7 1.7,-2.9 0.7,-2.2 1.6,-2.1 1.2,-3.3 0.9,-3.6 0.7,-3.4 0.2,-2.9 0.9,-2.5 -0,-3.3 0.4,-2.8 0.4,-3.8 0.5,-2.9 0.3,-3.4 0.7,-3.3 0.4,-2.1 0.8,-3 0.5,-3.6 0.6,-3 0.9,-2.9 0.6,-3.2 0.5,-2.1 0.4,-3.8 0.6,-3.4 0.7,-2.6 0.9,-2.9 -0.1,-2.5 1,-3.3 0.5,-2.8 0.4,-3.2 0.6,-2.5 0.6,-3.4 0,-2.8 0.6,-2.9 0.4,-3.3 0.5,-3.4 0.2,-1.9 0.4,-3.5 0.7,-3.1 0.5,-3.7 0.3,-3.3 0.3,-2.1 0.5,-2.8 0.1,-3.4 0.6,-3.2 0.3,-3 0.8,-2.3 0.5,-2.9 0.4,-4 0.5,-2.6 0.9,-2.7 0.3,-3.1 0.7,-3.2 0.8,-2.6 0.4,-3.3 0.8,-3.3 0.6,-2.6 0.5,-3.3 1.1,-2.5 0.3,-3.7 0.7,-2.1 0.9,-3.2 0.7,-3.5 0.8,-3 0.6,-2.7 0.4,-2.7 1,-3.3 1,-3.3 0.4,-3.3 0.8,-2.5 0.8,-2.8 0.5,-3.5 0.7,-2.8 0.4,-3.2 0.4,-3.5 0.4,-2 0.3,-3.9 0.3,-1.8 0.6,-3.1 0.2,-3.4 0.4,-3.1 0.6,-2.8 0.2,-3.1 0.3,-3.4 0.3,-3.5 0.4,-3 0.7,-2.2 0.3,-3.6 0.2,-3.1 0.1,-2.4 0.1,-2.9 0.6,-3.8 -0.1,-2.6 0.7,-3.1 0.3,-3.1 0.5,-3.2 0.6,-2.4 0.3,-2.3 0.3,-3.6 0.3,-3 0.8,-2.1 0.5,-3.9 0.2,-3.6 0.5,-3.5 0.7,-2.8 0.3,-3.4 0.4,-2.6 0.6,-3.3 0.2,-3.3 0.4,-2 0.5,-3.6 0.5,-3.1 0.3,-4 0.5,-2.6 0.2,-3.2 0.5,-3.5 0.6,-2.8 0.2,-3.3 0.3,-2.3 0.4,-3.2 0.5,-3.4 0.4,-3.3 0,-3.6 0.7,-3.1 0.2,-1.3 0.7,-3.6 0.3,-3.4 0.4,-1.7 0.4,-3.7 0.6,-2.8 0.2,-2.7 0.5,-2.5 0.5,-3.1 0.5,-4.4 0.5,-2.8 0.6,-2.7 0.7,-3.8 0,-1.9 0.5,-3.5 0.8,-3 0.4,-3.2 0.9,-2.9 0.7,-2.8 0.7,-3 1,-1.8 0.7,-3.3 0.9,-2.9 0.7,-2.8 0.6,-3 0.3,-3.4 0.8,-2 0.9,-3.7 0.9,-3.1 0.5,-2.2 1.3,-2.7 1.7,-2.8 1.2,-2.7 1.6,-3 1,-3 0.5,-3.1 -0.1,-2.9 0.3,-3.5 -0.4,-3.7 0.4,-2.9 -0.3,-2.7 0.2,-3.8 0.5,-2.9 1.8,-2.8 2.5,-0.8 2.6,-1.5 2,-2 1.4,-2.5 1.6,-3.3 1.1,-3.3 1.1,-3.2 1.1,-2.7 1.2,-2.7 0.8,-2.9 0.6,-2.7 0.6,-2.5 1.5,-3.1 0.8,-2.9 1.2,-2.8 1.4,-3.6 1,-3.1 1,-3.5 0.5,-2.5 0.3,-3 0,-2.1 0.2,-3.7 -0.4,-3 0.3,-4.2 -0,-2.1 0.2,-3.1 0.4,-2.6 0.5,-3.6 0.5,-2.2 0.6,-4 0.8,-2.8 0.7,-2.6 0.8,-3.2 0.6,-3.1 0.7,-2.6 0.7,-3.7 0.9,-2.8 0.8,-2 0.7,-3.1 0.9,-3.2 0.9,-3.3 0.6,-2.7 0.4,-3.6 1,-1.9 0.9,-3.6 0.2,-3.1 0.7,-2.7 0.4,-3.4 0.7,-2.8 0.5,-3.5 0.5,-3.5 0.8,-2.3 0.7,-3.2 0.4,-3.5 0.6,-2.9 0.8,-2.7 0.2,-2.9 0.8,-3 0.6,-2.4 0.5,-4.1 0.5,-2.8 0.5,-2.7 0.5,-3.8 0.7,-2.6 1.3,-3.3 1.3,-2.7 2,-2.2 2.1,-1.1 3.1,0.8 1.7,1.7 2.3,2.8 1.9,3 1.3,2.4 0.7,2.9 0.9,3.2 0.9,2.6 1.2,3.3 0.6,2.7 0.5,3.7 1.1,3.4 0.5,3.1 0.6,1.3 0.3,4 0.5,3 0.9,2.5 0.4,3.3 -0.1,3.2 0.7,3 0.5,3 0.1,3.6 0.3,2.5 0.3,3.4 0.5,3.3 0.2,2.6 -0.3,3.1 0.4,2.8 0.2,3.4 0.3,3.4 0.1,3.1 0.4,2.9 0.5,2.4 0.4,3.2 0.2,3.7 0.4,2.1 0.3,4 0.3,2.6 0.4,3.6 0.2,2 0.3,3.1 0.4,3.2 0.3,2.4 0,3.9 0.6,2.4 0.2,2.7 0.4,4 -0.3,3 0.4,2.6 0.1,3 0.2,2.6 0.2,3.5 0.3,2.3 -0,3.9 0.3,2.8 -0.2,1.9 0.1,2.6 0.4,3.4 0.2,3.3 0.4,3.7 0.4,1.8 0.4,3.3 -0,2.9 0.4,2.5 0.7,3.3 0,3.4 0.7,3.1 0.1,3.1 0.6,3.2 0.4,2.9 0.2,2.8 0.2,3 0.5,3.9 -0,2 0.5,3.5 0.6,2.9 0,3.8 0.5,2.8 0.4,2.7 0.2,3.1 0.2,3.4 0.5,2.5 0.1,3.7 0.4,3 0.3,2.6 0.4,3.5 -0.2,3.1 0.6,2.9 0.6,2.7 -0.1,3.2 0.5,3 0,2.9 0.6,3.1 0.3,3.2 0.1,3 0.5,2.2 0.2,3.5 0.4,3.4 0.3,2.3 0.7,3.1 -0.1,3.5 0.4,2.4 0.2,3.7 0.4,2.7 0.4,2.9 0.3,3.2 0.5,3.4 0.2,2.3 0.1,3.4 0.1,3.6 0.7,2.6 0.1,2.8 0.3,3.6 0.3,3.1 0.4,2.2 0.2,4.2 0.2,2.7 0.4,2.5 0.6,3.4 0,2.7 0.4,3.7 0.3,3.1 0.3,3.3 0.2,2.6 0.4,2.7 -0.1,3.6 0.7,2.4 0.2,2.9 0.3,3.4 0.4,3.2 0.3,3 0.4,2.5 -0,3 0.5,3 0.6,3 0.1,3 0.3,2.8 0.3,3.5 0.2,2.6 0.6,3.2 0.3,2.3 -0.1,4.5 0.8,2.4 0.3,3.3 0.2,2.9 0.3,2.6 0.6,3.9 0.4,2.4 0.5,3.5 0.5,2.9 0.2,3.5 0.7,2.2 0,3.7 0.6,2.6 0.2,3.5 0.5,2.7 0.4,2.7 0.3,3.1 0.4,3 0,2.5 0.5,3.6 0.4,3 0.6,3.1 0.6,2.6 0.2,3.4 0.4,2.9 0.4,3.2 0.6,1.9 0.6,3.7 0.2,3.1 0.6,3.5 0.6,2.7 0.5,2.7 0.4,3 0.6,2.7 0.6,3.9 0.7,2.7 0.6,2.9 0.4,3.3 1.1,2.7 0.4,3.6 0.4,2.2 0.7,2.8 0.5,3.2 0.8,2.4 0.5,3.2 0.4,3.4 0.8,3 0.5,3.2 0.3,3.1 0.7,2.7 0.3,2.7 0.3,3.2 1,3.3 0.5,3.1 0.3,2.9 1.1,3 1,2.5 0.5,3.4 1,2.5 0.9,2.8 0.9,2.8 1.1,2.5 0.8,3 1.2,2.6 0.8,4 1.1,2.3 1.2,2.8 1.4,3.7 1,2 1,3.1 1.5,2.6 1.4,2.6 2.2,3 1.3,2.4 2.1,2.3 1.5,2.3 1.7,3.1 1,2.4 2,2.5 1.5,2.5 1.5,3.3 0.9,3.2 1.4,2.2 0.9,2.1 1.6,3.2 1.5,2.2 1.6,2.8 1.4,2.5 1.7,2.4 1.8,3 1.4,3 2,2.8 1.7,1.8 1.7,3.1 1.8,2.4 1.7,3.3 1.8,2.6 1.7,1 1.7,3.1 1.8,3.2 2.8,1.8 2.3,2.5 2.2,2.5 2.5,1.8 2.1,2.1 2.7,2.4 2.1,2 3.1,1.6 2.7,-0.8 2.7,-1.2 2.9,0.9 2.4,1.9 2.6,2.4 2.6,2.1 2.7,1.5 2.8,-0.4 2.8,-2 2.8,-1.4 2.7,-1.5 3,-1.4 2.9,1.7 2.7,-0 1.5,-2.4 1.3,-2.9 1.3,-2.6 1.3,-3.6 1,-3.4 1.5,-3.1 1.8,-2.1 1.3,-2.6 1.6,-2 1.5,-3.6 2,-2.7 1.8,-1.9 1.8,-2.9 1.7,-2.4 1.8,-3.4 2,-2.2 2.2,-2.8 1.9,-2.5 1.6,-2.7 2,-2.3 2,-1.9 2,-3.3 2.1,-1.8 1.8,-2.4 2.2,-2.7 1.9,-1.8 2,-2.7 2.5,-2.7 2.2,-1.9 2.2,-1.8 3.1,-2.1 2.9,1.7 3.4,0.5 1.7,-3.7 1.5,-2.7 1.3,-2.8 1.1,-2.8 1.5,-3.6 1.3,-2.8 1.2,-3.5 0.4,-2.3 0.9,-2.9 0.3,-3.9 0.9,-2.1 0.3,-4.4 0.7,-1.9 0.9,-3.9 0.3,-2.9 1,-3.3 1.2,-2.9 1.3,-4 1,-2.9 1.2,-1.7 2.2,-1.7 3.3,0.8 2.7,1.9 2.6,2.5 2.6,2.3 2.3,2.1 2.4,2.6 2,2.4 2.2,1.9 2.5,1.4 2.9,0.9 3.2,-0.5 2.9,-0.3 3,0.6 3.2,-0.4 2.9,-0.9 2.7,-2 1.6,-1.9 1.7,-3.1 1.7,-4.1 1.8,-2.7 1.6,-2.9 1.2,-1.9 1.6,-2.4 1.5,-2.9 1.3,-2.3 1.7,-3.3 1.1,-3.4 1.4,-2.3 0.9,-3.4 1,-1.5 0.9,-3.8 1.2,-3 0.9,-2.3 0.7,-4 1.3,-2.8 0.8,-3.1 1,-2.6 0.8,-3.1 1.1,-3.2 0.9,-3.4 1,-2.3 0.6,-2.5 0.9,-2.7 0.8,-3.3 0.8,-2.9 0.6,-3.2 0.6,-4 0.6,-2.1 0.4,-2.6 0.3,-4.1 0.5,-2.8 0.3,-2.7 0.4,-2.7 0.5,-2.7 0.5,-3.3 0.4,-3.6 0.5,-3.1 0.6,-2.6 0.3,-3.6 0.5,-3.1 0.5,-2.9 0.8,-2.9 0.3,-2.6 0.7,-2.8 0.8,-2.9 0.5,-2.8 0.8,-3.7 0.8,-3.2 0.6,-2.1 0.7,-3.3 0.8,-2.9 0.8,-3.2 0.8,-3.7 0.7,-2.5 0.9,-2.7 0.4,-2.9 0.7,-3.7 0.8,-2.4 0.9,-2.8 0.6,-3.4 0.7,-2.5 0.7,-3 0.6,-3.5 1,-2.7 0.6,-3.4 0.5,-2.9 0.8,-2.9 1.1,-3.1 0.6,-2.6 0.5,-3 0.9,-3.4 0.5,-2.9 1,-3.2 0.6,-2.6 0.6,-2.8 0.8,-3.2 0.5,-3.3 0.5,-2.7 0.9,-3.2 0.3,-2.5 1.1,-4.3 0.2,-2 0.8,-3.3 0.5,-2.2 0.5,-3.1 0.6,-3.7 0.5,-2.9 0.8,-2.3 0.4,-3.8 0.4,-2.5 0.3,-2.8 0.8,-3.4 0.3,-2.7 0.8,-2.7 0.3,-3.2 0.1,-2.6 0.4,-3.9 0.6,-2.4 0.2,-2.7 0.4,-3.1 0.5,-3.3 0.1,-3 0.5,-3.2 0.3,-3.2 0.3,-2.6 0.2,-3.2 0.3,-3.3 0.6,-2.6 0.2,-3.3 0.4,-2.8 0.6,-3 0.3,-3.7 0.3,-3 0.3,-2.6 0.6,-3.3 0.1,-2.7 0.1,-2.5 0.4,-3.3 0.6,-3 0.1,-3.1 0.2,-2.9 0.2,-3.6 0.4,-2.9 0.3,-3.2 0.2,-3 0.2,-1.9 0.2,-4.2 0.2,-2.6 0.8,-3.2 0.3,-2.9 0.2,-2.3 0.7,-4.4 0.1,-2.2 0.7,-3.3 0.4,-2.8 0.3,-2.8 0.4,-3.2 0.6,-3.2 0.2,-3.2 0,-2.8 0.5,-3.8 0.5,-2.6 0.3,-2.7 -0.1,-3.4 0.5,-2.5 0.3,-3.6 0.1,-2.5 0.2,-3.2 0.3,-3.6 0.6,-2 -0.1,-3 0.2,-2.8 0.3,-3.5 0.2,-3.1 0.3,-3.1 0,-2.7 0.4,-3.3 0.3,-3.3 0.3,-2.9 0.3,-3.1 -0,-2.9 0.5,-2.6 0.1,-3.8 0.5,-2.4 0.4,-3.7 0.4,-3 0.3,-2.9 0.3,-4.1 0.5,-2 0.3,-3 0.3,-2.7 0.4,-2.6 0.2,-3.2 0.3,-3.5 0.4,-3.1 0.4,-2.9 0.1,-2.7 0.2,-3.2 0,-2.2 0.2,-3.2 0.5,-3.1 0.2,-2.7 0.2,-3 0.2,-3.2 0.1,-2.9 0.3,-3.1 0.5,-3.4 0.3,-2.6 0.2,-3.5 0.4,-2.6 0.5,-2.5 -0.1,-3.5 0.7,-3.4 0.4,-2 0.3,-3.3 0.6,-3.6 -0.1,-2.4 1,-4.1 0.2,-2.6 0.4,-2.7 0.6,-3.3 0.6,-3.5 0.3,-1.7 0.5,-3.9 0.5,-2.2 0.7,-4.4 0.2,-2.8 0.8,-3.6 0.3,-1.8 0.2,-3.2 0.6,-4 0.6,-2.5 0.4,-3.7 0.3,-3.1 0.3,-2.4 1.2,-4.1 1.4,-3.1 3,-2.4 2.4,2.3 2.2,1.8 1.7,2.8 1.2,2.9 0.9,2.5 0.6,2.9 0.2,2.5 0.5,3.7 0.3,3 0.4,3.9 0.6,3.6 0.5,2.2 0.3,2.7 0.5,3.7 0.4,2.1 0.6,3.6 0.4,3.3 0.5,3.3 0.4,2 0.4,3.7 0.4,3.3 0.4,3.3 0.3,2.5 0.4,3.8 0.3,1.9 0.4,3.6 0.4,2.7 0.1,2.3 0.5,3.7 0.6,3.2 0.1,3.2 0.1,2.3 0.4,4.1 0.5,2.5 0,3.7 0.7,2.4 0.3,3.1 0.2,3.1 0.1,2.7 0.5,4.2 0.4,3 0,3.8 0.7,1.9 -0.1,3.3 0.4,2.4 0.5,3.3 0.3,3.2 0.1,2.3 0.6,2.6 0.6,2.9 0.1,3.1 1.1,2.8 0.3,3.7 0.4,3.1 0.3,2.9 0.4,2.9 0,1.5 0.6,4.1 0.1,2.6 0.6,3.7 -0,2.5 0.4,3.8 0.3,3 0.3,3 0.1,3.1 0.6,2.9 0.3,3.1 0.3,2.8 0.3,3.9 0.4,1.8 0.5,3.3 0.3,2.4 0.8,4.3 0.1,2.9 0.4,2.4 0.6,3.8 0.2,2.9 0.1,3 1,3.2 0.2,3.2 0.1,2.4 0.5,3.6 0.5,2.4 0.6,3.7 0.4,3.8 -0,2 0.8,3.9 0.3,2.7 0.4,3 0.2,3 0.7,2.6 0.3,3.1 0.5,3.4 0.7,2.9 0.4,2.4 0.5,3.2 0.5,3.4 0.7,4.1 0.4,1.5 0.5,3 0.6,3.4 0.4,3 0.8,2.5 0.4,3.2 0.7,2.9 0.4,3.1 0.4,3.1 0.7,2.9 0.3,3 0.7,3.1 0.5,3 0.7,2.9 0.5,3 0.6,2.5 0.5,3.2 1,2.7 0.6,2.9 0.7,4.1 0.7,1.9 0.7,3.2 0.9,2.8 0.4,3 1.1,3.5 0.8,2.6 0.9,2.8 0.7,3 1.1,2.7 0.8,2.8 0.7,3.2 0.8,2.6 0.9,2.9 0.8,4 1,2.1 0.5,2.1 0.9,3.6 0.7,3.1 0.2,2.9 0.6,2.8 0.8,3.3 0.6,3 0.5,3 0.6,2.9 1,3.2 0.2,3.6 1.2,2.8 0.6,2.6 0.8,3.1 0.9,2.9 0.7,2.7 1.1,3.9 0.4,2.2 0.9,3.5 0.7,2.9 0.7,3.4 0.4,3.2 0.9,3.1 0.4,2.9 0.8,3.5 0.7,3.1 0.3,3 0.8,2.6 0.9,3.2 1,3.1 0.7,3 0.7,3.3 1.2,3.3 1.5,1.8 1.9,2.8 3.4,-1.7 2.2,-2.6 1.8,-2.2 0.5,-2.1 1,-3.2 0.7,-3.3 0.7,-3 1.2,-3 1.8,-2.5 1.6,-3.5 2.4,-1.9 2.5,-1.3 2.6,1.6 2.2,2.6 1.4,3 1.5,2.6 0.6,3 0.7,2.9 1,3.5 0.6,2.8 1,2.8 0.8,3.3 0.6,2.8 0.9,3 0.8,3.6 0.8,2.8 1,3.2 0.8,2.4 1,2.5 1.3,3.7 0.6,2.8 1,3.9 0.9,2.5 1.1,3 0.7,2.1 0.8,3.6 0.6,2.4 1,2.4 0.6,3.3 0.8,2.7 1,3.3 0.9,1.8 1.3,2.8 0.8,3.2 1.3,2.9 1.3,3.7 0.9,2.4 1.2,2.8 1,2.7 1,3.5 0.8,3.6 1.2,1.9 1,3.4 0.9,3 1,3.4 0.7,2.5 1.1,2.5 1,3.1 0.8,3.1 1.1,2.8 0.9,2.2 0.9,4.4 0.9,2.6 0.7,2.6 1,2.8 0.5,3.2 1,3 0.6,2.6 1.1,3.3 0.9,2.6 0.7,2.6 0.8,3.1 1,2.9 1.1,2.9 0.6,3 0.7,2.8 1,3 0.7,3.1 0.8,3.1 1,2.6 0.5,3.8 1.1,2.5 0.6,3 1,2.6 0.9,3 0.6,2.8 0.7,3.3 1.1,2.8 1,3.3 1.1,3 0.9,3 1.2,3 0.9,2.6 0.8,2.5 1,2.6 1,2.8 1.1,3.8 1.2,2.9 1.2,1.9 1.4,3.4 0.9,3 1.2,2 1.7,2.6 1.5,2.8 1.5,2.8 1.7,3 2,2.1 1.8,2.6 2,1.5 1.8,2.9 2.1,1.8 2.4,2.4 2.4,1.6 3,1.5 2.3,1.1 2.5,1.1 3.3,1.1 2.7,1.1 3.2,0.9 3.1,0.9 2.8,0.1 2.6,1.6 2.6,2.3 2.2,1.7 2.1,2.4 2,2.2 1.7,3.2 1.1,1.9 1.5,2.5 1.6,3.2 1,2.9 1.7,3 1,3.1 1.1,2.7 1.1,2.8 0.6,3.3 0.7,2.5 1.4,3.5 0.8,2.7 1.2,4.3 0.9,1.6 1.2,3 1.4,3 1.7,2.5 1.2,3 1.9,2.5 1.5,3.2 1,1.9 1.8,3 1.9,2.6 1.6,3.5 1.8,2.7 1.6,2.5 1.8,1.2 1.7,3.1 1.7,2.7 2,2.6 1.8,3 2.1,1.8 1.6,2.2 1.9,1.9 2.2,2.4 2.3,2.1 2.2,2.4 2.2,2.3 1.7,3.1 1.7,1.7 1.7,2.1 1.9,3.2 1.5,2.8 1.8,3 1.5,2 1.3,2.5 1.7,3.5 1.5,2.9 1.7,2.4 1.5,3.1 2.4,2.5 1.5,2.2 2.2,3.2 2.3,1.4 2,3.1 1.7,2.1 2.5,2.1 3.1,1.5 2.5,2.2 2.3,1.1 3.5,1.8 2.8,1.2 2.9,0.2 2.7,-0.3 3.4,-1.3 1.9,-1.5 2.3,-2 1.8,-1.7 2,-2.3 2.4,-3.6 1.7,-2.7 1.8,-1.9 1.5,-2 1.4,-3.5 1.6,-2.3 1.2,-2.3 1.4,-2.9 1.7,-3.4 1,-2.6 1.6,-3.1 0.9,-1.9 1.5,-3.3 1.2,-2.3 1.2,-3.2 1.1,-2.2 1,-3.4 1.5,-1.9 1.2,-3.6 1,-3.1 1.2,-2.5 1.2,-2.1 1.4,-4.5 0.8,-2.2 1.5,-2.8 0.7,-3.6 1.7,-2.2 1.3,-2.9 0.8,-2.6 0.9,-3.4 0.9,-2.5 1.3,-2.9 1.1,-3.2 0.9,-3.2 0.5,-2.6 1.1,-2.6 0.7,-3.5 0.7,-2.6 0.8,-3 0.8,-3 0.8,-3.1 0.5,-2.9 1.2,-3.2 0.6,-2.3 0.5,-3.3 0.4,-2.9 1.1,-3.2 -0,-3.2 0.6,-2.8 0.4,-3 0.2,-2.9 0.3,-2.4 0.1,-3 0.1,-2.9 0.1,-3 0,-3.6 0.1,-3.7 0.4,-1.1 -0.1,-4.2 0.4,-1.5 0.1,-4.7 0.3,-2.2 -0.3,-4.3 0.8,-3.3 -0,-3.1 0.3,-3.5 0.1,-2.5 0.2,-2.8 0.1,-3.5 0.2,-3.5 0.3,-3.4 0.2,-2.6 0.1,-2.5 0.4,-4.5 0.1,-1.7 0.3,-3 0.4,-3.6 0.5,-3.2 0.3,-2.5 0.5,-2.3 0.5,-4.1 0.6,-2.8 0.4,-2.6 0.4,-3.2 0.6,-3.7 0.3,-3.1 0.6,-2.5 0.4,-3.5 0.3,-3.1 0.2,-2.6 0.2,-2.8 0.4,-3.4 0.2,-3.1 0.6,-2.5 0,-2.8 0.3,-3.6 0.5,-2.3 0.3,-4.2 0.5,-3.2 0.4,-2.5 -0.2,-2.7 0.1,-2.3 0.9,-3.8 -0.1,-2.8 0.4,-3.3 1.5,-1.3 0.3,3.5 0.4,3 0.3,3.4 0.6,3.7 0.5,3.6 0.2,1.7 0.4,3.1 0.1,3.7 0.4,3.2 0.7,3.3 0.1,2.5 0.6,2.6 0.5,3.6 0.2,2.6 0.5,2.7 0.4,3.9 0.5,2.4 0.6,3.6 0.5,1.9 0.2,3.1 0.1,3.6 0.4,3.9 0.4,2.9 0.3,2.7 0.4,3.2 0.2,2.3 0.3,3.5 0.2,2.7 0.3,2.6 0.3,3 0.2,3.5 -0,3 0.2,2.7 -0.1,3.2 0.2,3.4 0.6,3.3 -0.2,2.4 0.1,2.9 0,3.2 0.3,2.7 0.1,4.4 0.2,2.2 0.1,3.3 0.5,3.6 0,3.1 0,2.1 0.6,4 0.1,2.5 0.3,3.2 0.4,2.7 0.6,4.1 0.6,3.2 0.4,3 0.6,2.5 0.5,2.7 0.6,2.6 0.8,3.7 0.7,3.1 0.6,2 1.2,4.4 0.9,2.5 0.8,2.9 1.6,4.6 2.2,-0.2 3,-2.5 2.2,-1.8 2.3,-3.2 2.9,-2 1.5,-2.8 2,-2.6 2,-2.9 1.6,-2.7 2.3,-2.3 2.5,-1.3 3.1,-2.8 2.8,-0.7 3.1,-0.9 2.4,1.9 1.9,2.6 1.6,3.8 0.8,3.1 0.6,3.3 0.8,3.3 0.3,2.9 0.2,3.3 0.5,3.2 0.8,2.8 0.3,3.3 0.3,3 0.4,3.6 0.2,3.4 0.4,3 0.3,2.7 0.3,2.8 -0,2.7 0.4,2.9 0.3,3.6 0.3,2.9 0.4,4 0.3,2.9 0.3,2.6 0.5,3.2 0.2,4 0.7,2.1 0.3,2.3 0.6,3.7 0.7,2.3 0.4,4.2 0.5,3 0.6,2.5 0.6,3.3 0.5,3.3 0.4,3.4 0.8,2.6 0.2,3.8 0.9,3 0.3,3.3 0.8,2.5 0.1,3.1 0.9,2.7 0.6,3.9 0.5,2.4 0.3,3.5 0.8,2.9 0.3,1.6 0.9,4.3 0.4,2.5 0.6,3.1 0.5,2.5 0.5,3.5 0.8,1.4 0.6,4 0.5,3.1 0.6,3.2 0.8,3.6 0.6,2 0.7,2.9 0.8,3.3 0.3,2.7 0.9,3.3 0.5,3 1,3.4 0.8,2.7 0.4,3.1 1,2.9 0.8,3.1 0.4,3.6 0.8,2.9 0.7,2.9 0.7,3.6 0.9,2.3 0.6,3.2 0.6,2.5 0.7,2.5 0.6,3 0.9,3.4 0.6,3.5 1.2,3.4 1,3.6 0.5,2.8 1,3.4 0.5,3.3 1,2.9 0.9,3.1 0.9,2.5 0.4,3.1 0.7,2.3 1.2,2.8 0.6,2.8 1,3.5 0.7,4.2 1.1,2.5 0.4,3.5 1.7,1.8 2,-1.2 1,-2.2 0.8,-2.4 0.7,-4.4 0.4,-2.2 0.6,-2.5 0.5,-2.4 0.5,-4 0.4,-3 0.5,-2.8 0.2,-2.7 0.7,-2.5 0.3,-3.5 -0,-2.3 0.5,-3.8 0.3,-3.6 0.4,-3.4 0.1,-2.6 0.5,-3.8 0.4,-2.6 0.2,-3.8 0.5,-3 0.3,-3.3 0.1,-3.3 0.4,-3.6 0.5,-2.1 0.2,-3 0.2,-2.8 0.2,-2.5 0.2,-2.9 0.3,-2.7 0.3,-3.8 0.4,-2.2 0,-3.3 0.6,-2.7 0.1,-2.9 0.1,-2.7 0.6,-4 0.2,-3.5 0.1,-2.8 0.3,-3.2 0.4,-3.6 0.2,-3 0.1,-2.1 0.4,-3.1 0.2,-3.3 0.2,-3.3 0.6,-2.4 -0,-3.4 0.4,-3 0.1,-3.2 0.5,-2.9 0,-3.5 0.5,-2.9 0.1,-3 0.4,-3.9 0.3,-2.5 0.1,-4 0.5,-2.9 0,-3.1 0.3,-2.8 0.1,-3.2 0.6,-2.8 0.2,-3.3 0.1,-3 0.1,-2.3 0.3,-3.6 0.3,-1.8 0.2,-4.2 0.1,-3.2 0.3,-4 0.4,-3.7 0.2,-3.8 0,-3.1 0.3,-2.6 0,-3.1 0.3,-3.8 0.4,-3.2 0.2,-2.9 -0,-3.2 0.3,-2.6 -0,-3.1 0.1,-2.3 0.2,-3.1 0.2,-3.5 0.3,-2.2 -0.1,-3.9 0.6,-2.8 0.1,-3.6 -0,-2 0.3,-3.2 0.5,-3 0.3,-3.2 0.1,-2.1 0.3,-3.7 0.4,-2.2 0.6,-3.4 0.1,-3 0.5,-3 0.5,-3.4 0.4,-3.3 0.3,-3.3 0.9,-2.5 0.5,-3.3 0.6,-3.5 0.7,-3.4 0.9,-4.4 0.7,-2.9 1.1,-4.4 1,-2.3 0.9,-3.5 1.1,-3 1.7,-1 0.9,3.3 0.6,4.1 0.4,2.1 0.3,2.8 0.2,3.1 0.7,2.7 0,2.6 0.5,3.4 0.6,3.1 0.5,3.7 0.6,3.9 0.6,3.1 0.3,3.3 0.1,2.5 0.8,3.1 0,0.8" stroke="#af77e0"/>
<path d="M177.9,1587 L178.6,1245.3l2.3,0 2.6,-0.7 3.6,1.1 2,3.5 1.3,2.2 1.1,3.6 0.2,1.9 1.5,3.1 1.2,5.2 0.7,4.2 1.8,2.5 0.7,3.4 0.7,3.8 0.9,-0.6 1.5,5.3 2.7,1.5 3.2,0.4 2.7,0.6 2.4,1.7 1.4,3.1 2,1 2.4,3.5 0.3,4.1 3.1,0.3 1.6,2.2 3.2,-3 2.9,-0.9 3.6,0.3 2.6,1.2 1.6,1.7 1.9,2.5 1.4,2.3 1.7,5.1 0.2,1.6 1.6,1.5 1.1,4.8 2.1,3.3 0.5,0.8 2.1,3.2 3.1,-0.1 0.8,-1.3 1.7,-4.2 0.3,-1.5 0.5,-6 0.6,-1.5 1.7,-3 1.4,-2.8 1.4,1.3 0.7,4.6 1.3,2.9 0.4,2.3 1,3.9 1.2,1.5 0.6,4.6 1.2,-0.9 0.6,-1.8 1.3,-4.1 -0.6,-3.1 0.4,-3.5 0.3,-1.9 -0.2,-2.7 -0.4,-4.6 0.9,-1.4 -0.1,-2.7 0.8,-4.5 0.5,-2.2 0.9,-3 2.1,0.7 1.7,4.4 1.4,1.1 2.1,3.3 2.6,-1 2.3,-2.2 3,-3.4 1.6,-0.6 3.6,-2.9 1.8,-2.5 2.6,-0.2 3.3,-1.9 2.8,-0.9 2.5,0.8 2.3,5.4 1.7,2 1.9,2.3 2.9,3 1.5,2.2 2.7,1.4 2.1,-0.1 1.4,-1.6 1.9,-2.1 1.2,-2.6 1.8,-0.1 2.9,2.3 1.2,2.8 0.1,3.5 1.7,4.1 2.3,0.8 1.7,-1 1.3,-2.7 2.4,-2.3 2.8,-1.1 2.4,0 2.9,1.8 2.8,3.5 3.7,-1.1 2.5,-0.1 2.9,-1.2 3.3,3.1 1.9,-0 3,-1 2.2,4.4 2.9,1.1 3.7,3 2.1,-0.3 3.3,0.9 2.4,-2.1 2.2,-2.5 1.8,-2.9 2.1,-0.4 1.8,-0.4 2.2,4.6 1.4,3.7 0.9,3.9 1.8,0.5 3.1,2.3 3,-0 3.1,0.8 3.3,2.9 1.9,3.8 1.9,0.1 2.5,-3.2 1.3,0.7 2.5,-0.7 3.1,-0.4 2.1,1.8 1.1,2.1 1.7,3.9 2,3.1 1.5,2.3 2.9,3.6 0.8,3.5 1.6,3.6 1,3 1.5,3.5 2.6,3.9 0.2,1.4 2.8,0.5 1.9,-2.8 1.5,-1.3 0.8,-3.9 1.7,-3.3 -0.7,-2.2 1.2,-3.5 1.6,-1.8 1,-2 1.9,-2.6 1.9,0.6 -0.1,5.8 1.6,2.3 0.5,2.9 1.5,2.1 0.7,3.2 0.5,2.9 1.4,3.6 0.6,3.4 -0.4,3.4 1.3,2 0.5,1.3 1.3,5.6 0.6,-0.5 0.6,4.1 0.7,3.6 1,2.6 2.2,1.5 1.6,-2.4 0.1,-3.7 0.5,-3.2 0.5,-3.9 1,-2.7 -0.2,-2.7 0.8,-2.8 0.3,-2.1 0.5,-4.3 0.6,-2.4 0.7,-2.5 0.6,-3.8 -0,-3.2 1.4,-1.8 1.4,-0.7 1,3.2 1.5,3.3 1.1,3 0,1.6 0.5,4.1 1.1,1.8 0.3,2.9 0.9,3.3 0.1,1.7 1.6,2.8 -0.2,1 3.2,3.5 1,-1.5 1,-2.7 0.2,-3.5 1.2,-2.2 0,-4 0.4,-2 1,-4.4 0.7,-1 1.2,-3.9 1.3,-2.1 1.7,-0.4 1.9,4.2 0.2,2.5 1.7,4.1 0.2,3.1 1.3,3.2 -0.3,0.3 1.4,4.3 1.5,2.3 2.6,-1.5 0.7,-3.8 1.2,-3.2 0.1,-3.1 -0.2,-0.8 1.3,-3.9 1.4,-3.6 -0.6,-1.5 1.5,-5 1.6,-2.1 1.6,-2.4 1.7,4.6 1.7,3.9 2.4,2 0.5,2.3 1.4,2.6 1.8,4.4 2.1,0.1 2.9,-1.2 1.2,-1.3 1.1,-3.3 2.1,-3.4 1.4,-1.2 2.8,1.3 1.6,0.5 2,4 1.4,4.1 1.7,2.3 0.8,2.1 1.1,5.2 1.5,1.5 1.2,4.6 0.8,2.2 0.5,2.1 -0.5,2.9 1.5,3.7 -0.2,3.4 1.7,4.2 1.1,1.4 0.8,-1.4 0.7,-3.7 1.2,-3.7 0.4,-2.9 1.2,-4.3 0.3,-1.5 0.4,-1.6 0.3,-4.9 0.1,-2.1 1.6,-4.3 0.6,-2.6 1.6,-3 1.5,-2.6 2.4,-3.5 3.5,1.3 2.2,3 2.2,1.2 1.2,4.7 1,0.9 2.2,5.7 2.1,1.8 1.7,1.8 3.1,-2.4 2,-1.9 1.8,-3.6 2.3,-1.4 2.6,-2.2 1,3.4 2.6,4.1 1.1,0.8 0.9,5.1 0.5,1.8 2,2.7 2.4,-0.8 1.6,-0.1 1.6,-2.9 1.4,-3.7 0.6,-3.1 0.8,-2 0.7,-2.4 1.9,-5.6 0.6,-1.6 2.1,-2.3 2.3,-3.2 2.4,4 1.3,3.3 2,2.9 3.7,1.3 2.8,1.5 2.1,0.2 4,-0.7 1.5,-2.6 1.8,-3 2.7,-0.8 2.4,0.3 3.9,0.9 2.9,2.1 2.2,-1 3.2,3.6 2.5,2.9 2.9,0.3 3.6,-0.4 3.8,-2.7 2.7,0.6 2.6,-2.2 3.4,0.3 1.9,2.9 2.6,1.1 2.4,2.9 3,2.4 3.1,-2.5 2,-2.5 2,-1.3 1.9,-4 3,2.4 3.1,0.7 3.4,1.2 3.5,0.4 1.8,1 3.5,-1.1 2.9,-0.1 2.3,-2.3 3.2,1.9 1.9,4.2 3.2,1.7 2.5,-0.7 3,3.3 2.5,-0.4 4.1,-0.9 3.3,0.3 2.4,-0.9 2.6,3.1 2.5,2 3,1.8 1.5,-2.2 2.7,-4 2.8,1.1 3,0.6 2.8,1.1 2.8,2.6 3.2,1.1 2.4,2 3.5,-0.1 2.8,2.1 2.8,0.3 2.3,-0.7 3.9,-2.1 3.6,-0.2 2.6,-0.2 2.6,-1.7 3.5,1.9 2.9,0.5 0.9,1.2 2.9,3.1 3,0.4 2.8,1.1 3.4,2.5 3.3,0.9 2.7,-0.3 2.9,-1.2 2.3,-1.3 3.7,-2 2.3,1.9 3.1,-1.7 3.1,-0.8 3.7,-0.1 3.1,2.5 3.4,-0.1 3.3,0.2 2.9,0.9 2.7,0.9 3.1,-0.1 3.3,0.5 2.5,2.4 3.8,0.9 3.3,0.1 2.9,-0.7 3.2,-0.7 3.5,-0.4 2.1,1 2.3,0.3 3.5,-0.7 3.8,0.9 3,0.5 2.7,-0.4 3,1.9 2.3,0.3 3.7,-2.1 2.7,-0.3 2.3,-0 3.4,3.1 2.6,1.3 3.5,1.6 2.7,0.5 3.3,-0.3 3,1.7 2.7,0.1 2.7,-3.2 2.1,-2.7 2.2,-3.3 1.9,-1.4 2.3,-0.3 2.9,-0.1 3.1,1.7 3,3.3 2.6,1.2 2.4,0.8 2.8,0.4 3.7,-1.7 2.4,1.2 2.6,-0.6 3.4,-2.8 2.4,-2.5 2.8,-2 2.5,0.7 3.7,-2.3 2.6,-1.4 2.9,0.1 0.7,-4.4 2.3,-2.1 2.2,-1 0.9,-3.6 0.9,-3.8 1.9,-2.7 1.7,-4 1.1,0.5 1.3,-4.4 2.4,-2.2 1.3,-4.5 1.3,-2.7 2.2,-1.1 0.8,-3 0.8,-2 1.4,-3.8 1.1,-2.9 0.9,-3 1.1,-3 1.2,-2 1,-3.3 1.4,-2.9 1.1,-3.2 1.4,-2.7 1,-3.3 0.6,-1.7 1,-3 0.6,-3 0.8,-2.8 0.8,-4 0.5,-2.8 0.7,-3.9 -0,-1.9 0.3,-3.4 0.5,-2.4 0,-4.7 0.6,-1.9 0.4,-3.8 0.4,-3.7 0.5,-2.1 0.2,-3.3 0.3,-2.8 0.6,-3.7 0.4,-3.3 0.7,-1.7 0.3,-3.8 0.8,-3.1 0.2,-2.7 0.9,-3.1 0.2,-3.2 0.4,-2.9 1,-2.7 0.2,-3.2 0.4,-3.1 0.4,-3 0.4,-3.1 0.6,-3.2 0.1,-2.9 0.5,-3.4 0.5,-3.2 0.4,-2.6 0.1,-3.4 0.5,-3 0.5,-3.3 0.2,-2.1 0.2,-2.9 0.6,-3.3 0.4,-3.5 0.6,-2.8 0.5,-3.4 0.5,-3.1 -0,-3.4 0.4,-2.5 0.3,-2.3 0.8,-3.9 0.5,-3.5 0.4,-3.3 0.5,-3.2 0.6,-1.9 0.3,-2.6 0.4,-3.4 0.5,-3.1 0.7,-2.8 0.8,-3 0.8,-3.1 0.5,-2.6 0.7,-3.5 0.6,-3.2 0.4,-2.4 0.2,-3.7 0.5,-2.6 0.1,-2.8 0.4,-3 -0,-3.6 0.5,-2.8 0.3,-2.8 0.4,-3.3 0.1,-2.7 0.1,-2.9 0.1,-3.1 0.2,-3.2 0.2,-3 0.2,-3.8 0.5,-2.7 0.3,-3.1 0.5,-2.4 0.6,-3.4 0.2,-2.9 0.2,-3 0.9,-3.4 0.6,-2.3 0.3,-3.4 -0.1,-3.1 0.9,-3.2 0.3,-2.5 0.3,-3 0.4,-3.1 0.4,-3.1 0.3,-3.1 0.3,-3.5 0.1,-3.2 0.5,-3.2 0.6,-2.8 0.4,-1.9 0.2,-4.2 0.2,-2.9 0.3,-2.2 0.5,-3.3 0,-2.8 0.4,-3.3 -0.1,-3.6 0.5,-2.8 0.1,-3.6 0.3,-2.4 0.4,-3.3 0.2,-2.1 0.3,-4.2 0.2,-2.4 0.5,-2.9 0.2,-2.9 0.3,-2.7 0.3,-3.3 0.2,-1.8 -0,-4.3 0.5,-3.5 0.3,-3 0.3,-2.9 0,-2.6 0.7,-3 0,-3.9 0.3,-2.4 0.1,-3.7 0.5,-2.2 0.3,-2.6 -0.1,-3.8 0.6,-2.7 0.2,-3.9 0.3,-2.6 0.2,-3.5 0.4,-2.4 0.2,-3.2 0.3,-3.2 0.3,-2.6 0.5,-3.4 0.1,-2.3 0.3,-3.8 0.3,-3.3 -0.1,-2.8 0.4,-3.2 0.5,-2.7 0.2,-2.8 0.2,-3.4 0.5,-3.4 -0,-2.2 0.2,-3.3 0.3,-3 0.1,-2.9 0.4,-2.9 0.1,-4.2 0,-2.6 0.5,-3.4 0.1,-2.1 0.4,-3.6 0.2,-2.6 0.3,-3.1 0.3,-3.1 0.6,-2.7 -0,-2.8 0.5,-4.2 0.2,-2.5 0.6,-3.3 0.3,-2.8 0.5,-2.7 0.4,-4 0.2,-2.1 0.5,-2.9 0,-2.7 0.4,-3.7 0.4,-3.1 0.3,-2.7 0.5,-3.2 -0,-3.4 0.4,-2.7 0.3,-3.2 0.7,-2.8 -0.1,-3.7 0.3,-1.5 0.6,-4.2 0.4,-2.8 0.2,-2.9 0.4,-3.5 0.6,-3 0.3,-2.9 0.5,-3 0.5,-3 0.1,-2.5 0.9,-2.8 0.4,-3.9 0.4,-3.4 0.6,-2.8 0.5,-2.8 0.6,-2.5 0.9,-3.3 0.8,-2.5 1.3,-2.8 1.1,-3 1.2,-2.2 1.3,-2.7 2.4,-2.5 1.5,-1.9 1.2,-3.9 0.7,-3 -0.1,-2.5 0.5,-2.3 0.4,-3.4 0.1,-3.3 0.2,-3.8 0.5,-3 0.3,-3.7 0.4,-3.3 0.5,-2.4 0.4,-3.3 1.2,-1.9 0.3,-3.6 0.5,-3 1.2,-3.1 0.7,-3.4 1,-2.6 0.9,-2.4 0.7,-3.1 0.8,-3 0.8,-2.8 1,-2.9 0.7,-3.3 0.7,-1.8 1.2,-3.4 0.7,-3.1 0.9,-2.7 0.7,-3.5 0.8,-3.4 0.4,-2.5 0.6,-3 0.7,-3 0.8,-3.4 0.6,-2.3 0.6,-4 0.5,-2.3 0.7,-3.6 0.7,-3.1 0.3,-2.4 0.7,-3.5 0.7,-2.6 0.6,-3.4 0.5,-2.8 0.2,-2.6 0.6,-3.7 0.5,-3 0.7,-2.6 0.3,-3.6 0.5,-2.4 0.3,-3 0.3,-2.7 0.5,-3.1 0.6,-3.8 0.2,-2.6 0.7,-2.5 0.3,-2.7 0.3,-3.7 0.1,-3.2 0.7,-2.9 0.1,-2.4 0.2,-2.8 0.8,-4 0.1,-2.4 0.4,-3.1 0.2,-2.4 0.2,-3.3 0.6,-3.2 0.4,-2.9 0.4,-3.8 0.2,-2.3 0.8,-2.6 0.3,-3.8 0.4,-3.5 0.6,-2.2 0.6,-3.8 0.5,-2.6 0.4,-2.6 0.6,-3.1 0.4,-3.8 0.5,-2.3 0.1,-3.9 0.5,-2.7 0.1,-2.9 0.5,-3.2 0.2,-2.5 0.4,-3.8 0.4,-1.9 0.3,-3.5 0.4,-3.5 0.3,-2.7 0.9,-2.9 0.1,-2.6 0.8,-4.2 0.4,-3 0.7,-3.2 0.6,-2.6 0.2,-1.8 0.7,-3.5 0.5,-3.4 0.5,-3.1 0.3,-3.2 0.5,-3.8 -0.1,-2.6 0.9,-3.1 0.1,-2.8 0.4,-2.8 0.8,-2.9 1.2,-2 1.4,-3.7 1.9,-3.4 2,-2.2 2.7,1.8 1.6,1.9 2.1,3.8 0.6,2.2 1.2,2.1 0.8,4.1 0.7,2.6 0.6,2.9 0.4,2.5 0.7,3 0.7,3.8 0.2,3.2 0.5,3.7 0.5,3.5 0.4,2.9 0.3,2.8 0.7,3 0.3,3 0.1,2.7 0.3,3.4 0.5,3.9 0.5,2.3 -0.1,2.8 0.3,3.8 0.3,2.6 0.1,3 0.3,2.6 0.4,3.1 0.2,2.9 0.1,3 0.3,2.8 0.3,3.4 0,3.4 0.2,2 0.5,3.5 0.2,3.3 -0.1,3.2 0.4,2.9 0.2,3.2 0.3,2.5 -0,3.1 0.4,2.7 0.3,3.8 0.2,2.9 0.2,2.3 0.5,3.2 0.2,3.4 0.5,2.2 0.1,3.5 0.2,3.5 0.3,2.2 0.4,2.6 0.3,3.4 0.3,3.1 0.3,3.2 0.1,3.3 0.5,2.3 0.1,3.5 0.4,3.6 0.5,2.8 0.2,2.7 -0,3.2 0.2,3.5 0.5,2.8 0.1,2.1 0.3,3.7 0.2,2.7 0.3,3.1 0.4,2.6 -0.3,3.4 0.6,2.5 0.2,3.7 0.3,3 0.1,2.4 0.5,3.5 -0.1,3.7 0.6,1.6 0.5,4.1 -0.3,3.3 0.5,3.1 0.2,2 0.2,3.3 0.3,2.9 0.2,2.7 0.1,3.4 0.4,2.7 0.1,4.3 -0.1,2.5 0.5,2.9 0.2,2.7 0.2,3.1 0,2.9 0.6,3.7 -0.2,2 0.3,3.6 0.3,2.4 -0.2,3.2 0.3,3.4 0.6,2.9 0.1,3.1 0.4,3.2 0.1,2.3 -0,3.5 0,2.9 0.6,3.1 0.6,3.1 -0,3.1 0.3,2.7 0.5,3.6 0.3,3.1 0.2,2.5 0.4,3.7 0.3,3.1 0.2,2.6 0.4,2.9 0.3,3.7 0.2,2.6 0.3,3.1 0.3,2.5 0.1,2.7 0.4,3.3 0.2,2.9 0.3,3.8 0.4,3.1 0.1,2.4 0.5,2.8 0,2.6 0.1,3.3 0.2,2.5 0.1,3.3 0.4,3.1 0.1,2.4 0.5,3.5 0.2,2.7 -0.1,2.7 0.4,4.4 0.4,3.2 -0.2,1.9 0.3,3.2 0.3,3 -0,3.3 0.4,2.9 0.2,2.9 0.1,3.5 0.2,3.1 0.1,2.7 0.2,3.7 0.2,2.5 0.7,3.2 -0.1,2.9 0.4,3.5 0.1,3.4 0.1,1.9 0.5,3.6 0,3.1 0.3,3.4 0.1,2.4 0.6,3.2 0.1,2.5 0.3,3.4 0.3,2.7 0.4,3 0.3,3.1 0.3,2.3 0.2,3.8 0.4,2.7 0.4,4 0.2,2 0.2,3.5 0.6,2.6 0.3,3.7 0.5,2.9 0.4,3.3 0,2.9 0.4,3.1 0.3,3.5 0.1,2.5 0.3,3.8 0.3,2.2 0.4,3.2 0.5,3.1 0,3.4 0.5,2.3 0.1,2.9 0.3,3.8 0.1,2.5 0.6,3.5 0.3,2.8 0.1,3.1 0.6,2.6 0,4 0.4,2.1 0.4,3.3 0.2,3.2 0.5,2.3 0.2,4 0.1,2.5 0.4,3.3 0.3,2.6 0.4,3.3 0.2,2.4 0.5,3.9 0.3,2.7 0.4,2.9 0.2,2.8 0.3,3.6 0.4,3 0.1,2.6 0.3,2.6 0.4,3.4 0.1,2.6 0.2,3.5 0.2,3.4 0.3,2.8 0.2,2.8 0.1,3.1 0.1,3.1 0.4,3.5 0.2,3.5 0.3,2.2 0.3,2.6 0.3,2.6 0.5,3.3 0.1,2.5 0.4,3.2 0.4,3 0,3.6 0.7,2.2 -0.1,4.3 0.7,2.1 0.2,3.7 0.4,3.3 0.3,2.6 0.6,3.6 0.3,2.9 0.4,3 0.3,3.3 0.7,2.7 0.1,3.5 0.8,3 0.2,2.9 0.1,2.5 0.9,2.5 0.5,3.7 0.5,4.6 0.4,2.1 0.4,2.8 0.3,3.2 0.1,2.9 0.9,2.3 0.5,3.4 0.4,2.7 0.5,3 0.6,3.4 0.6,2.9 0.5,2.9 1,2.6 0.5,2.9 0.6,3.5 0.8,3.1 0.6,2.3 0.5,3.5 0.7,2.4 0.9,4.3 0.4,1.2 0.9,3.8 0.8,2.7 0.5,3.6 0.5,2.6 1.1,3.3 0.9,1.9 0.5,4 1.5,2.3 0.8,3.8 0.7,2.1 1.1,3.2 0.9,3 1.1,3.3 1,2.8 1.1,2.6 1.3,2.9 1.1,3.2 1.2,3.1 0.6,2.6 1.5,3 0.9,3.3 1.2,2.2 0.9,3.8 1.1,2.1 1.2,3.6 1.3,2.7 1.1,3.1 1.2,3.3 1.6,2.6 1.6,3.1 1,2.9 1.8,2 1.6,3 1.9,2.1 2.3,1.9 2.6,1.7 1.9,2.8 1.3,1.9 0.7,2.9 0.8,3.3 0.8,3.3 0.6,3.1 0.7,3.2 0.8,2.4 1.9,2.2 2.8,1 3.1,1.5 2.9,2 2.4,1.4 2.4,2.8 2.5,2 2.5,1.2 2.6,1.3 2.9,-0.5 3.2,-1.6 3,0.7 2.5,1.8 3,1.9 3.1,2.5 2.4,1.6 2.6,0.5 2.9,-1.6 2.1,-2.9 2,-2 2.6,-0.2 2.8,1.8 2.5,-1 1.5,-3.7 2,-2 1.7,-3.6 1.6,-2.9 1.5,-3 1.4,-3.5 1,-2.2 1.2,-2.4 1.2,-2.8 1.4,-3.1 0.9,-2.7 1.3,-2.3 1.2,-3.4 0.7,-2.9 0.7,-3.4 0.8,-2.2 1.1,-3.7 0.3,-2.3 0.9,-3.5 0.7,-3.8 0.6,-2.5 0.5,-2.5 0.5,-2.6 0.4,-4.8 -0.3,-2.5 0.3,-2.4 1,-3.3 1,-2.4 1.3,-1.9 2.4,-2.9 1.9,-2.1 2.1,-2.3 1.9,-2.3 1.7,-2.3 1.7,-2.3 1.9,-3.6 2,-2.1 1.7,-2.1 1.9,-1.9 2.2,-3.6 2.2,-2.1 2.4,-1.3 2.7,-2.1 1.8,-2.6 2,-3.3 1.9,-0.9 1.4,-3 1.6,-2.5 1.4,-3.3 1.7,-3.9 0.9,-2.9 0.5,-3 0.8,-2.5 0.9,-2.9 0.3,-2.6 0.4,-3.7 0.5,-2.7 0.8,-3 0.3,-3.8 0.7,-2.9 0.6,-2.6 0.4,-4 0.5,-3.3 0.3,-2.5 0.7,-3.4 0.3,-3.8 0.3,-2.9 0.8,-2.5 0.5,-3.2 1.8,-4 2.2,-2.1 3.3,-0.7 2.8,-0.1 3.4,1.2 3.3,1.9 2.1,2 1.9,2.5 2.2,3 1.9,3.4 2,0.7 2.8,2.8 2.8,0.9 3.2,0.4 2.9,0.2 2.5,-1 2.7,-2.6 2.8,-1.8 2.2,-2 1.7,-2.3 1.5,-2.3 1.4,-3.2 1.4,-2.9 1.3,-3.5 0.9,-3.1 1.1,-1.5 0.8,-3.1 1.1,-2.7 1,-3.4 1,-3.7 0.9,-2.6 0.8,-3 0.6,-3.1 0.5,-3.2 0.7,-3.5 0.6,-2.8 0.8,-3 0.3,-2.8 0.5,-3.3 0.3,-2.1 0.7,-3.8 0.8,-2.1 0.2,-2.7 0.7,-3.2 0.7,-3.4 0.6,-2.1 0.4,-3.5 1.1,-3.7 0.2,-2.3 0.7,-3.1 0.9,-3.8 0.4,-2.4 1,-4.5 0.5,-1.8 0.4,-3.6 0.6,-2.8 0.6,-2.7 0.7,-3.1 0.5,-2.8 0.9,-3 0.6,-2.5 0.7,-3.8 0.7,-3.2 0.4,-2.3 0.6,-3.5 0.7,-3 0.5,-2.7 1,-3.5 0.1,-3 0.7,-3.3 0.6,-2.2 0.8,-3.1 0.6,-2.9 0.6,-2.9 0.8,-3.2 0.3,-3.4 0.8,-2.8 0.6,-2.6 0.8,-3 0.5,-2.9 0.5,-2.6 0.8,-3.8 0.7,-1.9 0.4,-3.4 0.3,-3.2 0.7,-2.8 0.7,-3.2 0.3,-2.6 0.6,-3.3 0.5,-2.9 0.3,-2.3 0.9,-4.3 0.3,-3.1 0.7,-3.3 0.8,-2.5 0,-2.1 0.7,-3.6 0.6,-3.2 0.8,-3.6 0.3,-2.6 0.5,-2.8 0.3,-2.8 0.8,-3 0.4,-2.9 0.5,-3 0.8,-3 0.1,-3.3 0.5,-2.4 0.6,-4.2 0.2,-2.1 0.5,-3.3 0.5,-3.3 0.4,-3 0.8,-3.3 0.3,-2.6 0.3,-3.6 0.5,-2.4 0.6,-2.9 0.6,-3.3 0.4,-2.9 0.6,-2.9 0.4,-2.9 0.9,-3.4 0.4,-3.4 0.5,-3.1 0.7,-2.4 0.5,-2.7 0.2,-3.1 0.8,-2.5 0.2,-3.6 0.4,-2.9 0.6,-2.7 0.3,-3.5 0.4,-3 0.6,-3.7 -0.1,-2.5 0.7,-2.9 0.4,-3.7 0.4,-2.6 0.5,-2.7 -0,-3.4 0.2,-2.8 0.4,-2.4 0.6,-3.4 0.1,-3.2 0.1,-2.8 0.4,-3.8 0.2,-2 0.3,-3.1 0.3,-3.5 0.6,-3.2 0.1,-2.8 0.7,-2.9 0.1,-3.2 0.5,-2.9 0.2,-3.9 0.3,-2.8 0.5,-3.2 0.3,-2.3 0.4,-3.4 0.3,-3.8 0.3,-3.1 0.3,-2.8 0.5,-2.2 0.1,-3.1 0.5,-3.6 0.1,-3.1 0.6,-2.9 0.1,-3.1 0.3,-3.7 0.2,-2.2 0.2,-3.2 0.2,-2.6 -0,-2.9 0.3,-3.5 0.4,-2.3 0.2,-3.5 0.6,-2.4 -0.4,-2.9 0.5,-3.1 0.5,-2.3 0.1,-4.6 0.3,-2.1 0.1,-2.8 0.1,-2.9 0.4,-2.6 0.5,-3.7 0,-3.1 0.2,-2.5 0.4,-3.6 0.4,-2.8 0.1,-3.4 0.3,-3.1 0.2,-2.9 0.1,-3.6 0.4,-2.3 0.1,-3.1 0.4,-2.8 -0.1,-2.8 0.4,-2.8 0.6,-3.6 0.1,-3 0.2,-2.5 0.2,-3.7 0.4,-3.4 0.4,-2.9 0.3,-2.3 0.3,-3.6 -0,-3 0.4,-3.2 0.1,-3.5 0.3,-2.2 0.5,-3.4 0.1,-2.5 0.3,-3.7 -0.4,-2.8 0.9,-2.8 0.3,-2.3 -0,-3.9 0.5,-3.4 -0.2,-2.3 0.6,-2.6 0.3,-3.6 0.1,-3.6 0.4,-2.6 0.1,-2.6 0,-3.2 0.5,-2.3 0.2,-3.4 0.1,-3.9 0.5,-2.7 -0.1,-2.5 0.5,-4 0.1,-1.8 0.2,-4.2 0.1,-2 0.5,-3.3 -0.2,-3.1 0.3,-3.4 0.2,-2.4 0.3,-3.2 0.1,-3.4 0.4,-3 -0,-2.6 0.2,-2.9 0.3,-3.1 0.4,-3.5 0.2,-3.2 -0.2,-3.4 0.3,-2.5 0.4,-2.3 0.5,-3.7 0.1,-2.9 -0.1,-4.4 0.5,-2.3 0.5,-2.7 0.3,-2.9 0.3,-3.1 0.3,-2.1 0.3,-4.2 0.1,-2.5 0.5,-3.4 0.1,-3.2 0.7,-2.3 0.1,-3.3 0.5,-2.6 0.1,-2.8 0.4,-3.5 0.2,-2.9 0.5,-3.5 -0,-2.3 0.7,-2.7 0.2,-4.1 0.4,-2.5 0.1,-3.7 0.3,-2.5 0.4,-2.9 0.5,-3 0.5,-3.6 0.2,-2.4 0.3,-2.8 0.5,-2.9 0.2,-2.9 0.5,-3.5 0.6,-3.5 0.5,-3.9 0.4,-2.1 0.4,-4.1 0.5,-2.3 0.7,-2.7 0.2,-2.9 0.5,-2.5 0.7,-3.8 0.4,-3.3 0.4,-2.9 0.6,-3.7 0.4,-3.3 0.5,-2.3 0.5,-3 1,-3.4 1.3,-1.7 2.1,-3.1 2.5,2.3 1.9,2.7 1.4,2.5 1,2.6 1.1,3.4 0.9,2.6 0.5,3.3 0.8,2.5 0.6,3.8 0.5,3.2 0.4,3.4 0.3,2.8 0.2,2.6 0.6,2.6 0.2,3 0.6,3.7 0.1,2.7 -0.1,3.6 0.8,3.3 0.2,3.2 0.2,3 0.1,2.4 0.5,3.3 0.1,2.5 0.5,2.3 0.2,4.1 0,3.3 0.5,3.8 0.3,1.3 0.1,4.2 0.3,2.7 0.4,3.6 0.3,2.4 0.2,3.4 0.3,2.8 0.5,3.2 0.3,2.8 0.5,3.2 -0.1,2.4 0.3,3.8 0.3,3 0.5,2.2 0.1,3.3 0.5,3 0.3,3.2 0.4,2.8 0.1,2.8 0.3,3.1 0.1,3.3 0.6,2.3 0,3.3 0.6,3.8 0.3,2.8 0.1,3.1 0.3,2.9 0.5,2.9 0.4,2.4 -0,4.1 0.4,2.5 0.3,3.1 0.4,3.2 0.4,3.5 -0.1,2.3 0.4,3.1 0.2,3 0.4,3 0.3,3.3 -0,2.8 0.5,3.4 0.2,2.4 -0.1,3.7 0.3,2.8 0.2,3.3 0.2,2.3 0.3,3.3 0.1,3.3 0.3,2.6 0.1,3.1 0.4,2.7 0.1,4.3 0.3,2.2 0.2,2.9 0.4,3.1 0,3 0.4,3.4 0.3,3.1 0.3,2.1 0.4,3.3 0.1,3.2 0.1,3.4 0.4,2.3 0.1,3.6 0.6,3 0.2,2.7 0.3,3.4 0,2.6 0.1,3.7 1,2.6 -0.1,3.3 0.2,3.5 0.2,1.9 0.6,3.6 0.1,2.7 0.2,3.1 0.4,2.7 0.3,3.9 0.1,2 0.4,4.2 0.2,2.6 0.4,2.3 0.5,3.3 0.2,3.5 0.6,2.9 0.4,2.9 0.1,3.6 0.6,2.2 0.2,3.8 0.4,3.3 0.2,2.3 0.4,2 0.5,3.8 0.4,3.2 0.6,3.1 0.2,2.9 0.6,2.9 0.4,3 0.2,3.6 0.2,2.6 0.5,2.4 0.7,3.3 0.4,2.8 0.6,2.1 0.3,3.7 0.4,2.7 1,3.6 0.3,2.3 0.4,2.5 0.4,2.9 0.5,3.5 0.8,2.7 0.5,3 0.6,3.6 0.6,3.3 0.7,2.8 0.3,2.9 0.8,3.2 0.7,2.5 0.3,3.6 0.6,3 1.2,3.3 0.1,2.3 0.9,3.3 0.8,3.2 0.7,3.1 0.5,3.2 0.8,2.3 0.7,3.3 1.2,2.8 0.6,2.4 1,3.4 0.6,3.4 0.8,3.1 0.9,3.1 0.3,2.7 0.8,2.8 0.7,3.1 0.5,3.4 0.9,2.5 0.4,4 0.7,2.4 0.3,2.9 0.6,2.8 0.5,3.1 0.6,3.4 0.9,2.5 0.6,3.2 0.6,3.1 0.6,3 0.6,2.9 0.9,2.7 0.3,3.6 0.8,2.7 0.6,2.9 0.5,3.4 0.8,3.1 0.6,3.7 0.6,2.7 0.6,3.3 0.8,1.9 0.6,3 0.5,2.7 0.6,3.7 0.8,2.5 0.2,4.4 0.9,2.7 0.5,2.6 0.6,3.3 0.8,2.9 1,4.1 1,2.4 1.7,2.9 2.2,2.6 2.6,-0.4 2.2,-3.5 1.1,-1.6 1.5,-3.8 0.6,-2.2 1,-3.2 0.4,-3.3 0.8,-3.8 0.9,-2.6 1.3,-3.4 1.6,-3.8 1.6,-3.2 2.1,-1.4 3.2,0.7 2.2,3.8 1.6,2.6 1.2,2.9 1.3,2.2 0.7,3.2 1,3.4 1.1,3.5 0.1,2.9 0.9,2.9 0.5,3.3 0.6,2.5 0.3,3.8 0.7,2.3 0.7,4.3 0.2,2.8 1,3.4 0.7,2.2 0.5,3.5 0.4,3.2 0.9,2.8 0.5,3 0.7,2.6 0.6,3.2 0.4,2.9 0.8,2.4 0.7,4.5 0.4,2.1 0.4,2.6 0.5,3.7 0.6,2.7 0.6,3.3 0.9,3 0.5,3 0.8,2.4 0.4,3 0.6,3.2 0.6,3.3 0.5,1.8 0.9,4.3 0.5,3.1 1,2.4 0.3,3.2 0.7,2.2 0.7,2.8 0.4,3.7 0.9,2.4 0.7,3.8 0.6,2.7 1.2,2.2 0.8,3.5 0.7,2.7 0.9,2.9 0.8,2.6 1,3.8 0.7,2.7 0.8,2 1,3.6 0.8,2.5 0.7,3.7 1.1,2.8 0.7,2 0.6,4.3 1.1,2.3 0.2,3.5 0.8,2.6 0.8,2.9 0.6,3.2 0.9,2.3 0.4,4.2 1,2.4 0.3,3.9 0.8,2.2 0.7,2.5 0.6,3.1 0.3,2.6 0.8,3.4 0.8,3.8 0.5,3.3 0.6,2.3 0.7,2.5 0.7,3.5 0.6,3.3 0.8,2.6 0.6,3.1 0.7,2.6 0.8,3.5 0.7,2.6 0.8,3.3 0.7,3.1 0.8,3.2 0.7,2.4 0.7,3.1 0.5,3.5 0.6,2.2 0.7,3.8 0.5,2.9 0.9,2.5 0.5,3 0.5,2.9 0.8,2.7 0.8,3.7 0.7,2.5 0.9,3.1 1,3.6 0.9,2.7 1,3.1 0.8,2.9 1,2.3 0.8,3.2 0.9,2.7 1.2,2.9 1.2,3.1 0.8,2.5 1.6,3.5 1.2,2.5 1.4,2.4 1.5,3.5 1.3,2.4 1.5,2.5 1.2,2.6 1.5,2.2 2,3.1 1.6,1.9 2.1,3.6 2,1.3 2.1,2.3 2.3,1.2 2.5,2.4 2.9,2 2.5,1.3 3.1,0.6 2.5,1.7 3.1,1.1 3.4,0.7 2.7,-0.1 2.7,1.8 2.1,1 2.4,2.7 1.5,3.8 1.8,2.2 0.7,3.1 1.5,2.2 1,3.1 1,3.6 1.2,3 1,3 1.2,2.7 1.1,3.1 1,2.7 1.1,3.4 0.9,2.9 1.3,2.9 0.8,2.8 1.3,2.4 0.7,3.3 0.9,3.3 0.6,2.8 0.5,4 0.5,2.3 0.9,2.8 0.8,2.9 0.8,3 0.8,3.1 1.5,3 1.4,2.6 2,2.9 1.5,3 1.4,1.7 1.2,3 1.2,2.2 1.2,3.7 1,2.1 1.5,2.9 1.6,2.4 1.5,2.3 1.2,3.3 1.9,2 1.9,2.3 1.8,3.1 1.7,3.1 1.4,1.9 1.5,2.6 1.5,3.1 1.9,3.3 1.4,2.9 1.9,3.1 1.6,1.6 1.4,3.1 1.7,2.5 2,3.1 1.4,2 1.7,2.6 1.4,3.6 1.7,2.4 1.6,2.6 1.1,2.1 1.3,3.3 1.2,2.7 1.2,2.5 1.3,2.9 1,2.8 1.4,2.9 1.1,3 1.5,2.6 1,3 1.6,1.9 1.4,4.4 1.3,2.1 1.8,1.7 1.7,3.4 1.7,2.1 1.9,2.3 2.6,2 2.3,2.6 3,0.9 2.9,1.8 2.8,0.9 3,0.4 2.9,0.4 2,-2.4 1.8,-1.2 2.1,-2.4 1.2,-3.3 2.2,-2.7 1.1,-2.5 1.6,-2.2 1.4,-2.4 1.2,-3.6 1.4,-2.7 1.8,-3.2 1,-3.4 0.9,-1.7 1.2,-2.9 1.2,-3.6 1.1,-3.1 1.1,-2.7 1.1,-2.5 0.9,-3.1 1.3,-3.4 1.1,-2.3 1.1,-2.8 1.3,-2.7 1.1,-3.3 1.3,-3.5 1,-1.4 1.1,-2.8 1.5,-3.9 0.7,-3 1,-2.2 0.9,-3.7 0.7,-2.9 0.8,-2.7 0.8,-3.3 0.7,-3.5 0.5,-2.5 0.8,-3 1,-3.6 0.1,-3.2 0.7,-2.1 0.8,-3.7 0.6,-3 0.5,-3.1 0.3,-2.8 0.7,-2.5 0.4,-4 0.5,-3 0.4,-2.8 0.5,-3.1 0.4,-2.6 0.4,-3 0.7,-2.8 0.5,-3.2 0.5,-2.9 0.5,-3.4 0.2,-2.6 0.8,-2.8 0.3,-3.4 0.1,-1.5 0.8,-3.2 0.2,-3.7 0.4,-2.8 0.2,-3.7 0.5,-2.9 0.2,-2.8 0.7,-3.1 0,-2.5 0.4,-3.3 0.4,-3.3 0.2,-2.7 0,-2.8 0.3,-2.8 0.4,-3.4 0.4,-3.5 -0,-2.2 0.4,-3.5 -0.1,-3.2 0.4,-3.3 0.1,-3.3 0.5,-2.2 0.2,-3.3 0.4,-2.6 0.2,-3.5 0.8,-3.1 0,-3.4 0.1,-2.7 0.9,-3 0,-3 -0,-3.5 0.4,-2 0.2,-3.5 0.2,-3.2 0.5,-2.9 -0,-2.6 0.4,-3.3 0.4,-3 0.2,-3.6 0,-2.2 0.3,-3.2 -0,-3.5 0.6,-2.4 -0.4,-4.3 0.8,-2.1 0.3,-4.4 -0,-1.8 0.4,-3.8 0.2,-2.4 -0,-2.8 0.5,-3.3 -0,-3.2 0.3,-2.4 0.7,-3.9 0.3,-2.7 0,-3.5 0.8,-2.7 0.1,-3.1 0.5,-2.9 0.8,-3.2 0.1,-3.8 0.6,-1.4 0.6,-3.6 0,-3 0.3,-3 0.4,-3.2 0.5,-2.8 0.3,-2.5 0.3,-3.8 0.4,-3.2 0.3,-2.9 0,-3 0.8,-3.8 0.3,-2.6 0.1,-2.8 0.3,-3.7 -0.1,-3 0.5,-2.3 0.6,-4 0.6,-2.1 0.7,-2.9 0,-2.7 1.1,-2.8 1.4,-1.5 1.4,3.1 0.5,3.4 0.8,2.9 0.6,2.8 0.1,2.6 0.7,3.1 0.2,3.5 0.2,2.6 0.2,2.7 0.5,4.2 0.2,3 0.4,3.2 0.3,2.6 0.3,2.8 0.1,2.6 0.2,3 0.4,4 0.1,2.5 0.4,3.6 0.3,2.9 0.2,3.2 0.4,2.8 0.5,3.5 0.1,3 0.7,3.2 -0.1,2.9 0.6,3.2 0.2,2.9 0.2,2.9 0.4,3 0.6,3.1 0.3,3 -0.1,3.5 0.4,2.5 0.5,3.6 0.1,3 0.1,2.8 0.1,3.2 0.3,2.9 0,3.4 0.6,2.4 -0,2.8 0.1,2.9 0.3,3.5 0.2,3.1 0,2.8 0.3,3.3 -0,2.6 0.5,3.6 -0,3 0.1,3.3 0.3,2.6 0.5,3.8 -0.4,2.6 0.6,2.7 -0.1,3.5 0.3,2.9 0.5,3.1 0.2,2.7 -0.3,3.1 0.4,3.4 0.4,1.9 -0,3.5 0.2,2.9 0.3,3.3 0.1,2.7 0.4,4 0.3,2.3 0.4,4.1 -0.1,2.4 0.6,3.6 0.3,3.4 0.4,2.5 0.2,3.2 0.4,2.4 0.3,2.3 1.1,3.4 0.6,2.6 1.2,3.1 2.5,0.2 1.5,-2.3 1.7,-2.5 1.5,-1.9 1.6,-4.1 1.6,-2.1 1.4,-3.3 1.5,-2.1 1.4,-3.2 1.6,-2.1 1.4,-3.5 1.4,-1.7 2,-3.3 1.4,-3.2 1.8,-2.9 1.7,-2.3 2.1,-3.7 2.5,-2.2 2.8,0.8 2.3,2.4 1.9,2.2 1.2,3.1 1.1,1.6 0.8,3.9 0.7,2.4 0.7,3.6 0.6,3.8 0.8,2.5 0.4,3.1 0.3,2.4 0.7,3 0.1,3.4 0.4,2.7 0.6,3.6 0.1,2.7 0.6,3.4 0.2,3.1 0.3,3.1 0.5,2.1 0.2,3.6 0.3,2.6 0.4,3.4 0,2.6 0.5,3.8 0.3,2.8 0.4,3 0.2,3.2 0.4,2.8 0.2,3 0.2,3.6 0.2,2.6 0.5,2.9 0.4,3 0.4,3.5 0.2,1.7 0.7,3.3 0.6,2.6 0.3,3.3 0.2,2.9 0.3,2.6 0.5,3.1 0.4,3.3 0.3,2.7 0.4,3.5 0.4,2.7 0.4,3.6 0.4,2.4 0.5,3.4 0.3,3.4 0.4,1.8 0.5,3.3 0.3,3.3 0.3,3.1 0.5,3.4 0.8,2.6 -0,3.6 0.7,2.9 0.1,3.4 0.4,2.8 0.3,2.2 0.7,3.2 0,3.4 0.4,3.2 0.6,2.8 0.3,3.6 0.6,2.9 0.1,3.3 0.6,3.1 0.5,2.1 0.2,3 0.9,3.2 0.5,2.7 0.4,3.5 0.2,3.2 0.6,2.8 0.3,2.8 0.7,3.2 0.4,3.6 0.6,2.5 0.5,3.5 0.6,3 0.2,2.7 0.7,3.2 0.4,2.7 0.4,2.8 0.7,2.8 0.4,3 0.8,3.3 0.5,2.8 0.7,2.8 1.2,3.8 0.5,2.5 0.8,3.6 0.8,2.6 0.4,3.6 1,2.4 0.6,2.8 0.6,2.2 1,4.4 0.5,2.2 0.6,2.9 0.7,2.7 0.8,2.3 0.7,3.5 0.5,3.4 0.8,3.4 0.3,2.2 0.8,2.9 0.7,3.6 0.4,3.3 0.5,2.4 0.6,3.3 0.6,3 0.6,3.3 0.2,3.6 0.7,3.1 0.4,2.5 0.3,2.7 0.4,3.8 0.6,2.7 0.7,2.6 1.2,-0 0.6,-2.6 0.7,-3.1 0.3,-2.5 0.7,-3.3 0.4,-3.1 0.5,-2.3 0.8,-2.2 0.8,-4.2 0,-3.6 0.9,-3.4 0.4,-3.4 0.3,-1.7 0.3,-3.6 0.3,-3 0.6,-2.7 0.2,-3.3 0.5,-3.2 0.1,-3.2 0.1,-2.7 0.6,-3.4 0.5,-3.1 0.2,-2.6 0.5,-3.8 0.2,-3.6 0.1,-3 0.4,-1.5 0.4,-4.3 -0,-2.4 0.6,-3.2 0.3,-2.9 0.4,-2.9 0.2,-4.2 0.1,-1.9 0.4,-3 0,-3.1 0.2,-3 0.4,-3.8 -0,-3 0.2,-2.5 0.3,-3 0.2,-3 0.1,-3.2 0,-3.1 0.4,-2.8 -0.1,-2.8 0.4,-3.9 0.2,-2.3 0.2,-3.4 0.1,-2.8 0.3,-3 0.2,-2.8 -0,-3.4 0.2,-3.8 0.4,-2 0.2,-3.2 0.2,-2.8 0.1,-3.2 0.4,-3.8 0.3,-2.7 -0.2,-3.1 0.5,-3 0.2,-3.3 0.1,-3.4 0.2,-2.1 0.2,-3.6 -0,-2.6 0.4,-3.6 0.2,-3.6 0.2,-2.8 0.1,-2.9 0.2,-3 -0.1,-2.9 0.6,-2.5 0.1,-3.3 0.5,-3.2 -0.1,-3.2 0.2,-2.6 -0.2,-2.3 0.6,-3.4 -0.1,-3 0.2,-2.4 0.1,-4.1 0.2,-2.7 0.2,-2.5 -0.1,-3.6 0.2,-2.9 0.1,-2.5 0.1,-3 0.1,-2.5 -0.1,-4 0.5,-3.1 -0,-2.7 -0,-3.4 0,-2.4 -0.1,-2.8 0.3,-3.7 0.2,-2.2 -0.2,-2.4 0.3,-3.8 0,-2.6 0.2,-3 -0,-3.4 0.3,-2.9 -0.1,-3.3 0.1,-2.5 -0.1,-2 0.4,-3.5 0.1,-3 0.1,-3.2 0.2,-3.3 -0.1,-3.1 0.3,-3.4 0.1,-2.7 -0.1,-3.1 0.6,-3.5 0.2,-2.9 0,-3.1 0.3,-3.2 0.2,-3 0.2,-3.1 0.5,-3.4 0.2,-3.1 0.1,-2.9 0.4,-2.7 0.5,-3.2 0.1,-2.5 0.2,-3.4 0.5,-2.3 0.3,-3.5 0.4,-3.1 -0,-3.6 0.7,-3.7 0.1,-2.6 0.5,-3 0.1,-2.6 0.6,-3.5 0.7,-3.6 0.4,-2.4 0.9,-3.5 1,-2.5 1.6,-1.5 1.6,4 1.3,3.3 0.7,2.8 0.6,2.9 0.4,3.6 0.7,2.8 0.7,4 0.3,1.8 0.2,3 0.5,4.4 0.5,1.8 0.1,2.7 0.4,3.9 0.4,3.2 0.4,2.5 0.3,3.8 0.5,3.4 0,3.5 0.5,3.6 0.3,3.2 0.1,3.1 0.2,1.8" stroke="#cc9902"/>
</g>
<g stroke="#000" stroke-width="11.4" fill="none">
<path d="M1097.5,1636.8 V807" stroke-dasharray="12.9 13.00"/>
<path d="M1189.9,1647.5 V338" stroke-dasharray="13.9 12.00"/>
<path d="M1474,1656.7 V743" stroke-dasharray="14.3 11.60"/>
<path d="M1644.2,1641.5 V281" stroke-dasharray="13.5 12.40"/>
<path d="M1879.1,1653.2 V1199.5" stroke-dasharray="13.8 12.10"/>
<path d="M2088.4,1658.6 V905" stroke-dasharray="13.4 12.50"/>
</g>
<g stroke-width="12" stroke-linecap="round">
<path d="M200,102.5 H388" stroke="#525252"/>
<path d="M200,208.7 H388" stroke="#ef3f40"/>
<path d="M200,314.8 H388" stroke="#1b6ddf"/>
<path d="M200,421 H388" stroke="#36ad6b"/>
<path d="M200,527.1 H388" stroke="#af77e0"/>
<path d="M200,633.2 H388" stroke="#cc9902"/>
</g>
<text class="lg" x="409" y="130.5">0 min</text>
<text class="lg" x="409" y="236.7">1 min</text>
<text class="lg" x="409" y="342.8">3 min</text>
<text class="lg" x="409" y="449">5 min</text>
<text class="lg" x="409" y="555.1">7 min</text>
<text class="lg" x="409" y="661.2">9 min</text>
<text class="tk" transform="translate(177.9,1876) scale(1.035,1)">2200</text>
<text class="tk" transform="translate(524.5,1876) scale(1.035,1)">2000</text>
<text class="tk" transform="translate(871.2,1876) scale(1.035,1)">1800</text>
<text class="tk" transform="translate(1217.8,1876) scale(1.035,1)">1600</text>
<text class="tk" transform="translate(1564.4,1876) scale(1.035,1)">1400</text>
<text class="tk" transform="translate(1911.1,1876) scale(1.035,1)">1200</text>
<text class="tk" transform="translate(2257.7,1876) scale(1.035,1)">1000</text>
<text x="791" y="1996.5" font-size="108">Wavenumber/cm<tspan x="1584.5" y="1952" font-size="70">-1</tspan></text>
<text transform="translate(104.5,1283) rotate(-90)" font-size="109">Absorbance(a.u.)</text>
<text x="781.1" y="929.2" font-size="69">1670 cm<tspan x="1025.7" y="899" font-size="45">-1</tspan></text>
<text x="1114.9" y="230.3" font-size="69">1619 cm<tspan x="1360.7" y="200" font-size="45">-1</tspan></text>
<text x="1306.8" y="615.3" font-size="69">1452 cm<tspan x="1552.2" y="584.7" font-size="45">-1</tspan></text>
<text x="1676.9" y="277" font-size="69">1360 cm<tspan x="1922.9" y="250.5" font-size="45">-1</tspan></text>
<text x="1972.7" y="780.7" font-size="69">1095 cm<tspan x="2218.5" y="751.7" font-size="45">-1</tspan></text>
<text x="780.8" y="1023.4" font-size="70.3">CO<tspan x="885.3" y="1042.7" font-size="47">2</tspan><tspan x="907.3" y="997.5" font-size="50">-</tspan></text>
<text x="1116.3" y="317.2" font-size="70.3">H<tspan x="1169.7" y="334" font-size="47">2</tspan><tspan x="1192.3" y="317.2" font-size="70.3">O</tspan></text>
<text x="1307" y="701.8" font-size="70.3">COOH*</text>
<text x="1678.7" y="373.6" font-size="70.3">HCO<tspan x="1834.4" y="390.5" font-size="47">3</tspan><tspan x="1857.5" y="345.5" font-size="50">-</tspan></text>
<text x="1973" y="875.9" font-size="70.3">HCO<tspan x="2130" y="895.6" font-size="47">3</tspan><tspan x="2153.3" y="848" font-size="50">-</tspan></text>
<g transform="translate(1823.2,0) scale(0.95,1)">
<text x="-5.1" y="1039.6" font-size="69">1215 cm<tspan x="239" y="1011.4" font-size="45">-1</tspan></text>
<text x="-1" y="1130.8" font-size="70.3">m-CO<tspan x="179.5" y="1147.5" font-size="47">2</tspan><tspan x="202.2" y="1103" font-size="50">-</tspan></text>
</g>
</svg></body></html>
